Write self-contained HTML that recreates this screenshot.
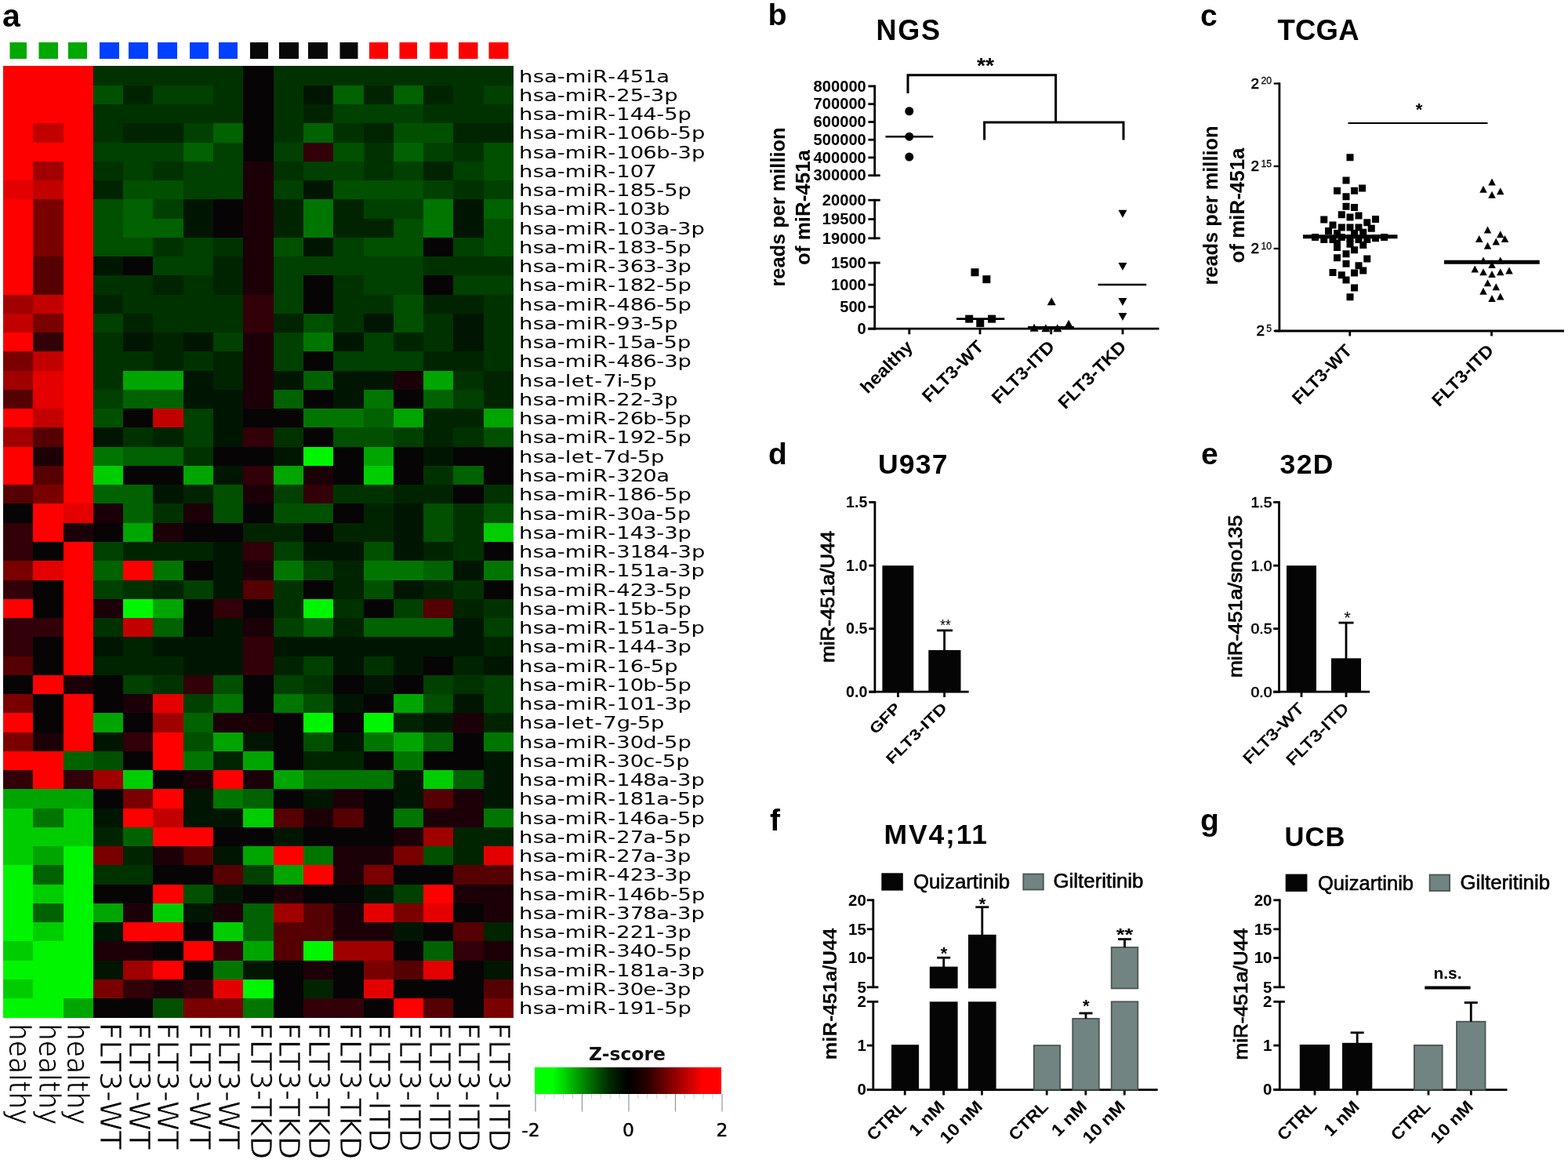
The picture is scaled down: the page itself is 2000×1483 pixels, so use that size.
<!DOCTYPE html>
<html lang="en"><head><meta charset="utf-8"><title>miR-451a figure</title>
<style>
html,body{margin:0;padding:0;background:#fff;}
body{width:2000px;height:1483px;overflow:hidden;font-family:"Liberation Sans",sans-serif;}
svg{display:block;}
</style></head><body>
<svg width="2000" height="1483" viewBox="0 0 2000 1483">
<rect width="2000" height="1483" fill="#fff"/>
<g shape-rendering="crispEdges">
<rect x="4" y="84" width="115" height="25" fill="#ff0000" />
<rect x="119" y="84" width="191" height="25" fill="#003200" />
<rect x="310" y="84" width="39" height="25" fill="#060405" />
<rect x="349" y="84" width="306" height="25" fill="#003200" />
<rect x="4" y="109" width="115" height="24" fill="#ff0000" />
<rect x="119" y="109" width="38" height="24" fill="#005000" />
<rect x="157" y="109" width="38" height="24" fill="#002400" />
<rect x="195" y="109" width="77" height="24" fill="#004000" />
<rect x="272" y="109" width="38" height="24" fill="#003200" />
<rect x="310" y="109" width="39" height="24" fill="#060405" />
<rect x="349" y="109" width="38" height="24" fill="#003200" />
<rect x="387" y="109" width="38" height="24" fill="#001602" />
<rect x="425" y="109" width="39" height="24" fill="#006200" />
<rect x="464" y="109" width="38" height="24" fill="#002400" />
<rect x="502" y="109" width="38" height="24" fill="#006200" />
<rect x="540" y="109" width="38" height="24" fill="#002400" />
<rect x="578" y="109" width="39" height="24" fill="#003200" />
<rect x="617" y="109" width="38" height="24" fill="#004000" />
<rect x="4" y="133" width="115" height="24" fill="#ff0000" />
<rect x="119" y="133" width="191" height="24" fill="#003200" />
<rect x="310" y="133" width="39" height="24" fill="#060405" />
<rect x="349" y="133" width="38" height="24" fill="#003200" />
<rect x="387" y="133" width="38" height="24" fill="#002400" />
<rect x="425" y="133" width="115" height="24" fill="#004000" />
<rect x="540" y="133" width="115" height="24" fill="#003200" />
<rect x="4" y="157" width="38" height="25" fill="#ff0000" />
<rect x="42" y="157" width="39" height="25" fill="#c30000" />
<rect x="81" y="157" width="38" height="25" fill="#ff0000" />
<rect x="119" y="157" width="38" height="25" fill="#003200" />
<rect x="157" y="157" width="77" height="25" fill="#002400" />
<rect x="234" y="157" width="38" height="25" fill="#004000" />
<rect x="272" y="157" width="38" height="25" fill="#006200" />
<rect x="310" y="157" width="39" height="25" fill="#060405" />
<rect x="349" y="157" width="38" height="25" fill="#003200" />
<rect x="387" y="157" width="38" height="25" fill="#006200" />
<rect x="425" y="157" width="39" height="25" fill="#003200" />
<rect x="464" y="157" width="38" height="25" fill="#002400" />
<rect x="502" y="157" width="76" height="25" fill="#005000" />
<rect x="578" y="157" width="77" height="25" fill="#002400" />
<rect x="4" y="182" width="115" height="24" fill="#ff0000" />
<rect x="119" y="182" width="115" height="24" fill="#004000" />
<rect x="234" y="182" width="38" height="24" fill="#006200" />
<rect x="272" y="182" width="38" height="24" fill="#004000" />
<rect x="310" y="182" width="39" height="24" fill="#060405" />
<rect x="349" y="182" width="38" height="24" fill="#004000" />
<rect x="387" y="182" width="38" height="24" fill="#320008" />
<rect x="425" y="182" width="39" height="24" fill="#005000" />
<rect x="464" y="182" width="38" height="24" fill="#003200" />
<rect x="502" y="182" width="38" height="24" fill="#006200" />
<rect x="540" y="182" width="38" height="24" fill="#004000" />
<rect x="578" y="182" width="39" height="24" fill="#003200" />
<rect x="617" y="182" width="38" height="24" fill="#005000" />
<rect x="4" y="206" width="38" height="24" fill="#ff0000" />
<rect x="42" y="206" width="39" height="24" fill="#a00000" />
<rect x="81" y="206" width="38" height="24" fill="#ff0000" />
<rect x="119" y="206" width="38" height="24" fill="#003200" />
<rect x="157" y="206" width="38" height="24" fill="#004000" />
<rect x="195" y="206" width="39" height="24" fill="#003200" />
<rect x="234" y="206" width="76" height="24" fill="#004000" />
<rect x="310" y="206" width="39" height="24" fill="#1c0008" />
<rect x="349" y="206" width="38" height="24" fill="#003200" />
<rect x="387" y="206" width="77" height="24" fill="#004000" />
<rect x="464" y="206" width="38" height="24" fill="#003200" />
<rect x="502" y="206" width="38" height="24" fill="#004000" />
<rect x="540" y="206" width="38" height="24" fill="#002400" />
<rect x="578" y="206" width="39" height="24" fill="#004000" />
<rect x="617" y="206" width="38" height="24" fill="#005000" />
<rect x="4" y="230" width="38" height="24" fill="#e40000" />
<rect x="42" y="230" width="39" height="24" fill="#c30000" />
<rect x="81" y="230" width="38" height="24" fill="#ff0000" />
<rect x="119" y="230" width="38" height="24" fill="#002400" />
<rect x="157" y="230" width="77" height="24" fill="#005000" />
<rect x="234" y="230" width="76" height="24" fill="#004000" />
<rect x="310" y="230" width="39" height="24" fill="#1c0008" />
<rect x="349" y="230" width="38" height="24" fill="#004000" />
<rect x="387" y="230" width="38" height="24" fill="#001602" />
<rect x="425" y="230" width="115" height="24" fill="#005000" />
<rect x="540" y="230" width="38" height="24" fill="#004000" />
<rect x="578" y="230" width="39" height="24" fill="#003200" />
<rect x="617" y="230" width="38" height="24" fill="#004000" />
<rect x="4" y="254" width="38" height="25" fill="#ff0000" />
<rect x="42" y="254" width="39" height="25" fill="#7a0000" />
<rect x="81" y="254" width="38" height="25" fill="#ff0000" />
<rect x="119" y="254" width="38" height="25" fill="#005000" />
<rect x="157" y="254" width="38" height="25" fill="#006200" />
<rect x="195" y="254" width="39" height="25" fill="#004000" />
<rect x="234" y="254" width="38" height="25" fill="#001602" />
<rect x="272" y="254" width="38" height="25" fill="#060405" />
<rect x="310" y="254" width="39" height="25" fill="#1c0008" />
<rect x="349" y="254" width="38" height="25" fill="#002400" />
<rect x="387" y="254" width="38" height="25" fill="#007600" />
<rect x="425" y="254" width="39" height="25" fill="#002400" />
<rect x="464" y="254" width="76" height="25" fill="#004000" />
<rect x="540" y="254" width="38" height="25" fill="#007600" />
<rect x="578" y="254" width="39" height="25" fill="#001602" />
<rect x="617" y="254" width="38" height="25" fill="#006200" />
<rect x="4" y="279" width="38" height="24" fill="#ff0000" />
<rect x="42" y="279" width="39" height="24" fill="#7a0000" />
<rect x="81" y="279" width="38" height="24" fill="#ff0000" />
<rect x="119" y="279" width="38" height="24" fill="#005000" />
<rect x="157" y="279" width="77" height="24" fill="#006200" />
<rect x="234" y="279" width="38" height="24" fill="#001602" />
<rect x="272" y="279" width="38" height="24" fill="#060405" />
<rect x="310" y="279" width="39" height="24" fill="#1c0008" />
<rect x="349" y="279" width="38" height="24" fill="#002400" />
<rect x="387" y="279" width="38" height="24" fill="#007600" />
<rect x="425" y="279" width="77" height="24" fill="#002400" />
<rect x="502" y="279" width="38" height="24" fill="#005000" />
<rect x="540" y="279" width="38" height="24" fill="#007600" />
<rect x="578" y="279" width="39" height="24" fill="#001602" />
<rect x="617" y="279" width="38" height="24" fill="#005000" />
<rect x="4" y="303" width="38" height="24" fill="#ff0000" />
<rect x="42" y="303" width="39" height="24" fill="#7a0000" />
<rect x="81" y="303" width="38" height="24" fill="#ff0000" />
<rect x="119" y="303" width="76" height="24" fill="#005000" />
<rect x="195" y="303" width="39" height="24" fill="#003200" />
<rect x="234" y="303" width="38" height="24" fill="#004000" />
<rect x="272" y="303" width="38" height="24" fill="#003200" />
<rect x="310" y="303" width="39" height="24" fill="#1c0008" />
<rect x="349" y="303" width="38" height="24" fill="#005000" />
<rect x="387" y="303" width="38" height="24" fill="#001602" />
<rect x="425" y="303" width="39" height="24" fill="#004000" />
<rect x="464" y="303" width="76" height="24" fill="#005000" />
<rect x="540" y="303" width="38" height="24" fill="#060405" />
<rect x="578" y="303" width="39" height="24" fill="#004000" />
<rect x="617" y="303" width="38" height="24" fill="#005000" />
<rect x="4" y="327" width="38" height="24" fill="#ff0000" />
<rect x="42" y="327" width="39" height="24" fill="#550002" />
<rect x="81" y="327" width="38" height="24" fill="#ff0000" />
<rect x="119" y="327" width="38" height="24" fill="#001602" />
<rect x="157" y="327" width="38" height="24" fill="#060405" />
<rect x="195" y="327" width="77" height="24" fill="#004000" />
<rect x="272" y="327" width="38" height="24" fill="#002400" />
<rect x="310" y="327" width="39" height="24" fill="#1c0008" />
<rect x="349" y="327" width="191" height="24" fill="#004000" />
<rect x="540" y="327" width="115" height="24" fill="#003200" />
<rect x="4" y="351" width="38" height="25" fill="#ff0000" />
<rect x="42" y="351" width="39" height="25" fill="#550002" />
<rect x="81" y="351" width="38" height="25" fill="#ff0000" />
<rect x="119" y="351" width="76" height="25" fill="#003200" />
<rect x="195" y="351" width="39" height="25" fill="#002400" />
<rect x="234" y="351" width="38" height="25" fill="#003200" />
<rect x="272" y="351" width="38" height="25" fill="#002400" />
<rect x="310" y="351" width="39" height="25" fill="#1c0008" />
<rect x="349" y="351" width="38" height="25" fill="#004000" />
<rect x="387" y="351" width="38" height="25" fill="#060405" />
<rect x="425" y="351" width="39" height="25" fill="#003200" />
<rect x="464" y="351" width="76" height="25" fill="#004000" />
<rect x="540" y="351" width="38" height="25" fill="#060405" />
<rect x="578" y="351" width="77" height="25" fill="#004000" />
<rect x="4" y="376" width="38" height="24" fill="#a00000" />
<rect x="42" y="376" width="39" height="24" fill="#c30000" />
<rect x="81" y="376" width="38" height="24" fill="#ff0000" />
<rect x="119" y="376" width="38" height="24" fill="#002400" />
<rect x="157" y="376" width="153" height="24" fill="#003200" />
<rect x="310" y="376" width="39" height="24" fill="#320008" />
<rect x="349" y="376" width="38" height="24" fill="#004000" />
<rect x="387" y="376" width="38" height="24" fill="#060405" />
<rect x="425" y="376" width="77" height="24" fill="#003200" />
<rect x="502" y="376" width="38" height="24" fill="#005000" />
<rect x="540" y="376" width="77" height="24" fill="#002400" />
<rect x="617" y="376" width="38" height="24" fill="#003200" />
<rect x="4" y="400" width="38" height="24" fill="#c30000" />
<rect x="42" y="400" width="39" height="24" fill="#7a0000" />
<rect x="81" y="400" width="38" height="24" fill="#ff0000" />
<rect x="119" y="400" width="38" height="24" fill="#004000" />
<rect x="157" y="400" width="38" height="24" fill="#002400" />
<rect x="195" y="400" width="115" height="24" fill="#003200" />
<rect x="310" y="400" width="39" height="24" fill="#320008" />
<rect x="349" y="400" width="38" height="24" fill="#002400" />
<rect x="387" y="400" width="38" height="24" fill="#005000" />
<rect x="425" y="400" width="39" height="24" fill="#003200" />
<rect x="464" y="400" width="38" height="24" fill="#001602" />
<rect x="502" y="400" width="38" height="24" fill="#005000" />
<rect x="540" y="400" width="38" height="24" fill="#003200" />
<rect x="578" y="400" width="39" height="24" fill="#001602" />
<rect x="617" y="400" width="38" height="24" fill="#003200" />
<rect x="4" y="424" width="38" height="24" fill="#ff0000" />
<rect x="42" y="424" width="39" height="24" fill="#320008" />
<rect x="81" y="424" width="38" height="24" fill="#ff0000" />
<rect x="119" y="424" width="38" height="24" fill="#003200" />
<rect x="157" y="424" width="38" height="24" fill="#001602" />
<rect x="195" y="424" width="39" height="24" fill="#002400" />
<rect x="234" y="424" width="38" height="24" fill="#001602" />
<rect x="272" y="424" width="38" height="24" fill="#004000" />
<rect x="310" y="424" width="39" height="24" fill="#1c0008" />
<rect x="349" y="424" width="38" height="24" fill="#004000" />
<rect x="387" y="424" width="38" height="24" fill="#007600" />
<rect x="425" y="424" width="39" height="24" fill="#001602" />
<rect x="464" y="424" width="38" height="24" fill="#004000" />
<rect x="502" y="424" width="38" height="24" fill="#002400" />
<rect x="540" y="424" width="38" height="24" fill="#003200" />
<rect x="578" y="424" width="39" height="24" fill="#001602" />
<rect x="617" y="424" width="38" height="24" fill="#003200" />
<rect x="4" y="448" width="38" height="25" fill="#7a0000" />
<rect x="42" y="448" width="39" height="25" fill="#c30000" />
<rect x="81" y="448" width="38" height="25" fill="#ff0000" />
<rect x="119" y="448" width="76" height="25" fill="#003200" />
<rect x="195" y="448" width="39" height="25" fill="#002400" />
<rect x="234" y="448" width="38" height="25" fill="#003200" />
<rect x="272" y="448" width="38" height="25" fill="#002400" />
<rect x="310" y="448" width="39" height="25" fill="#1c0008" />
<rect x="349" y="448" width="38" height="25" fill="#004000" />
<rect x="387" y="448" width="38" height="25" fill="#060405" />
<rect x="425" y="448" width="115" height="25" fill="#004000" />
<rect x="540" y="448" width="77" height="25" fill="#002400" />
<rect x="617" y="448" width="38" height="25" fill="#003200" />
<rect x="4" y="473" width="38" height="24" fill="#a00000" />
<rect x="42" y="473" width="39" height="24" fill="#e40000" />
<rect x="81" y="473" width="38" height="24" fill="#ff0000" />
<rect x="119" y="473" width="38" height="24" fill="#003200" />
<rect x="157" y="473" width="77" height="24" fill="#00a500" />
<rect x="234" y="473" width="38" height="24" fill="#001602" />
<rect x="272" y="473" width="38" height="24" fill="#002400" />
<rect x="310" y="473" width="39" height="24" fill="#1c0008" />
<rect x="349" y="473" width="38" height="24" fill="#001602" />
<rect x="387" y="473" width="38" height="24" fill="#006200" />
<rect x="425" y="473" width="77" height="24" fill="#001602" />
<rect x="502" y="473" width="38" height="24" fill="#1c0008" />
<rect x="540" y="473" width="38" height="24" fill="#00a500" />
<rect x="578" y="473" width="39" height="24" fill="#003200" />
<rect x="617" y="473" width="38" height="24" fill="#002400" />
<rect x="4" y="497" width="38" height="24" fill="#550002" />
<rect x="42" y="497" width="39" height="24" fill="#e40000" />
<rect x="81" y="497" width="38" height="24" fill="#ff0000" />
<rect x="119" y="497" width="38" height="24" fill="#004000" />
<rect x="157" y="497" width="77" height="24" fill="#006200" />
<rect x="234" y="497" width="76" height="24" fill="#001602" />
<rect x="310" y="497" width="39" height="24" fill="#1c0008" />
<rect x="349" y="497" width="38" height="24" fill="#006200" />
<rect x="387" y="497" width="38" height="24" fill="#060405" />
<rect x="425" y="497" width="39" height="24" fill="#001602" />
<rect x="464" y="497" width="38" height="24" fill="#007600" />
<rect x="502" y="497" width="38" height="24" fill="#060405" />
<rect x="540" y="497" width="38" height="24" fill="#006200" />
<rect x="578" y="497" width="39" height="24" fill="#004000" />
<rect x="617" y="497" width="38" height="24" fill="#002400" />
<rect x="4" y="521" width="38" height="24" fill="#ff0000" />
<rect x="42" y="521" width="39" height="24" fill="#c30000" />
<rect x="81" y="521" width="38" height="24" fill="#ff0000" />
<rect x="119" y="521" width="38" height="24" fill="#005000" />
<rect x="157" y="521" width="38" height="24" fill="#060405" />
<rect x="195" y="521" width="39" height="24" fill="#c30000" />
<rect x="234" y="521" width="38" height="24" fill="#004000" />
<rect x="272" y="521" width="38" height="24" fill="#001602" />
<rect x="310" y="521" width="77" height="24" fill="#060405" />
<rect x="387" y="521" width="77" height="24" fill="#007600" />
<rect x="464" y="521" width="38" height="24" fill="#006200" />
<rect x="502" y="521" width="38" height="24" fill="#00a500" />
<rect x="540" y="521" width="77" height="24" fill="#002400" />
<rect x="617" y="521" width="38" height="24" fill="#00a500" />
<rect x="4" y="545" width="38" height="25" fill="#a00000" />
<rect x="42" y="545" width="39" height="25" fill="#550002" />
<rect x="81" y="545" width="38" height="25" fill="#ff0000" />
<rect x="119" y="545" width="38" height="25" fill="#001602" />
<rect x="157" y="545" width="38" height="25" fill="#003200" />
<rect x="195" y="545" width="39" height="25" fill="#002400" />
<rect x="234" y="545" width="38" height="25" fill="#004000" />
<rect x="272" y="545" width="38" height="25" fill="#001602" />
<rect x="310" y="545" width="39" height="25" fill="#320008" />
<rect x="349" y="545" width="38" height="25" fill="#003200" />
<rect x="387" y="545" width="38" height="25" fill="#060405" />
<rect x="425" y="545" width="77" height="25" fill="#005000" />
<rect x="502" y="545" width="38" height="25" fill="#004000" />
<rect x="540" y="545" width="38" height="25" fill="#002400" />
<rect x="578" y="545" width="39" height="25" fill="#003200" />
<rect x="617" y="545" width="38" height="25" fill="#005000" />
<rect x="4" y="570" width="38" height="24" fill="#ff0000" />
<rect x="42" y="570" width="39" height="24" fill="#1c0008" />
<rect x="81" y="570" width="38" height="24" fill="#ff0000" />
<rect x="119" y="570" width="38" height="24" fill="#007600" />
<rect x="157" y="570" width="77" height="24" fill="#006200" />
<rect x="234" y="570" width="38" height="24" fill="#003200" />
<rect x="272" y="570" width="77" height="24" fill="#060405" />
<rect x="349" y="570" width="38" height="24" fill="#001602" />
<rect x="387" y="570" width="38" height="24" fill="#00f600" />
<rect x="425" y="570" width="39" height="24" fill="#060405" />
<rect x="464" y="570" width="38" height="24" fill="#00a500" />
<rect x="502" y="570" width="38" height="24" fill="#060405" />
<rect x="540" y="570" width="38" height="24" fill="#001602" />
<rect x="578" y="570" width="77" height="24" fill="#060405" />
<rect x="4" y="594" width="38" height="24" fill="#ff0000" />
<rect x="42" y="594" width="39" height="24" fill="#550002" />
<rect x="81" y="594" width="38" height="24" fill="#ff0000" />
<rect x="119" y="594" width="38" height="24" fill="#00cd00" />
<rect x="157" y="594" width="77" height="24" fill="#060405" />
<rect x="234" y="594" width="38" height="24" fill="#00a500" />
<rect x="272" y="594" width="38" height="24" fill="#001602" />
<rect x="310" y="594" width="39" height="24" fill="#320008" />
<rect x="349" y="594" width="38" height="24" fill="#00a500" />
<rect x="387" y="594" width="38" height="24" fill="#1c0008" />
<rect x="425" y="594" width="39" height="24" fill="#060405" />
<rect x="464" y="594" width="38" height="24" fill="#00cd00" />
<rect x="502" y="594" width="38" height="24" fill="#060405" />
<rect x="540" y="594" width="38" height="24" fill="#003200" />
<rect x="578" y="594" width="39" height="24" fill="#006200" />
<rect x="617" y="594" width="38" height="24" fill="#060405" />
<rect x="4" y="618" width="38" height="24" fill="#550002" />
<rect x="42" y="618" width="39" height="24" fill="#7a0000" />
<rect x="81" y="618" width="38" height="24" fill="#ff0000" />
<rect x="119" y="618" width="76" height="24" fill="#006200" />
<rect x="195" y="618" width="39" height="24" fill="#001602" />
<rect x="234" y="618" width="38" height="24" fill="#002400" />
<rect x="272" y="618" width="38" height="24" fill="#005000" />
<rect x="310" y="618" width="39" height="24" fill="#1c0008" />
<rect x="349" y="618" width="38" height="24" fill="#004000" />
<rect x="387" y="618" width="38" height="24" fill="#320008" />
<rect x="425" y="618" width="77" height="24" fill="#003200" />
<rect x="502" y="618" width="76" height="24" fill="#002400" />
<rect x="578" y="618" width="39" height="24" fill="#060405" />
<rect x="617" y="618" width="38" height="24" fill="#003200" />
<rect x="4" y="642" width="38" height="25" fill="#060405" />
<rect x="42" y="642" width="39" height="25" fill="#ff0000" />
<rect x="81" y="642" width="38" height="25" fill="#e40000" />
<rect x="119" y="642" width="38" height="25" fill="#1c0008" />
<rect x="157" y="642" width="38" height="25" fill="#006200" />
<rect x="195" y="642" width="39" height="25" fill="#003200" />
<rect x="234" y="642" width="38" height="25" fill="#1c0008" />
<rect x="272" y="642" width="38" height="25" fill="#005000" />
<rect x="310" y="642" width="39" height="25" fill="#060405" />
<rect x="349" y="642" width="76" height="25" fill="#005000" />
<rect x="425" y="642" width="39" height="25" fill="#060405" />
<rect x="464" y="642" width="38" height="25" fill="#002400" />
<rect x="502" y="642" width="38" height="25" fill="#001602" />
<rect x="540" y="642" width="38" height="25" fill="#005000" />
<rect x="578" y="642" width="39" height="25" fill="#003200" />
<rect x="617" y="642" width="38" height="25" fill="#005000" />
<rect x="4" y="667" width="38" height="24" fill="#320008" />
<rect x="42" y="667" width="39" height="24" fill="#ff0000" />
<rect x="81" y="667" width="38" height="24" fill="#1c0008" />
<rect x="119" y="667" width="38" height="24" fill="#060405" />
<rect x="157" y="667" width="38" height="24" fill="#00a500" />
<rect x="195" y="667" width="39" height="24" fill="#1c0008" />
<rect x="234" y="667" width="76" height="24" fill="#060405" />
<rect x="310" y="667" width="77" height="24" fill="#002400" />
<rect x="387" y="667" width="38" height="24" fill="#060405" />
<rect x="425" y="667" width="77" height="24" fill="#002400" />
<rect x="502" y="667" width="38" height="24" fill="#001602" />
<rect x="540" y="667" width="38" height="24" fill="#005000" />
<rect x="578" y="667" width="39" height="24" fill="#003200" />
<rect x="617" y="667" width="38" height="24" fill="#00cd00" />
<rect x="4" y="691" width="38" height="24" fill="#320008" />
<rect x="42" y="691" width="39" height="24" fill="#060405" />
<rect x="81" y="691" width="38" height="24" fill="#ff0000" />
<rect x="119" y="691" width="38" height="24" fill="#004000" />
<rect x="157" y="691" width="115" height="24" fill="#002400" />
<rect x="272" y="691" width="38" height="24" fill="#001602" />
<rect x="310" y="691" width="39" height="24" fill="#320008" />
<rect x="349" y="691" width="38" height="24" fill="#004000" />
<rect x="387" y="691" width="77" height="24" fill="#001602" />
<rect x="464" y="691" width="38" height="24" fill="#005000" />
<rect x="502" y="691" width="38" height="24" fill="#001602" />
<rect x="540" y="691" width="38" height="24" fill="#002400" />
<rect x="578" y="691" width="39" height="24" fill="#003200" />
<rect x="617" y="691" width="38" height="24" fill="#060405" />
<rect x="4" y="715" width="38" height="25" fill="#7a0000" />
<rect x="42" y="715" width="39" height="25" fill="#e40000" />
<rect x="81" y="715" width="38" height="25" fill="#ff0000" />
<rect x="119" y="715" width="38" height="25" fill="#006200" />
<rect x="157" y="715" width="38" height="25" fill="#ff0000" />
<rect x="195" y="715" width="39" height="25" fill="#007600" />
<rect x="234" y="715" width="38" height="25" fill="#060405" />
<rect x="272" y="715" width="38" height="25" fill="#001602" />
<rect x="310" y="715" width="39" height="25" fill="#1c0008" />
<rect x="349" y="715" width="38" height="25" fill="#007600" />
<rect x="387" y="715" width="38" height="25" fill="#004000" />
<rect x="425" y="715" width="39" height="25" fill="#002400" />
<rect x="464" y="715" width="76" height="25" fill="#007600" />
<rect x="540" y="715" width="38" height="25" fill="#006200" />
<rect x="578" y="715" width="39" height="25" fill="#001602" />
<rect x="617" y="715" width="38" height="25" fill="#007600" />
<rect x="4" y="740" width="38" height="24" fill="#320008" />
<rect x="42" y="740" width="39" height="24" fill="#060405" />
<rect x="81" y="740" width="38" height="24" fill="#ff0000" />
<rect x="119" y="740" width="38" height="24" fill="#004000" />
<rect x="157" y="740" width="38" height="24" fill="#003200" />
<rect x="195" y="740" width="39" height="24" fill="#002400" />
<rect x="234" y="740" width="38" height="24" fill="#004000" />
<rect x="272" y="740" width="38" height="24" fill="#001602" />
<rect x="310" y="740" width="39" height="24" fill="#550002" />
<rect x="349" y="740" width="38" height="24" fill="#003200" />
<rect x="387" y="740" width="38" height="24" fill="#060405" />
<rect x="425" y="740" width="39" height="24" fill="#002400" />
<rect x="464" y="740" width="38" height="24" fill="#005000" />
<rect x="502" y="740" width="38" height="24" fill="#001602" />
<rect x="540" y="740" width="38" height="24" fill="#002400" />
<rect x="578" y="740" width="39" height="24" fill="#003200" />
<rect x="617" y="740" width="38" height="24" fill="#060405" />
<rect x="4" y="764" width="38" height="24" fill="#ff0000" />
<rect x="42" y="764" width="39" height="24" fill="#060405" />
<rect x="81" y="764" width="38" height="24" fill="#ff0000" />
<rect x="119" y="764" width="38" height="24" fill="#1c0008" />
<rect x="157" y="764" width="38" height="24" fill="#00f600" />
<rect x="195" y="764" width="39" height="24" fill="#00a500" />
<rect x="234" y="764" width="38" height="24" fill="#060405" />
<rect x="272" y="764" width="38" height="24" fill="#320008" />
<rect x="310" y="764" width="39" height="24" fill="#060405" />
<rect x="349" y="764" width="38" height="24" fill="#003200" />
<rect x="387" y="764" width="38" height="24" fill="#00f600" />
<rect x="425" y="764" width="39" height="24" fill="#003200" />
<rect x="464" y="764" width="38" height="24" fill="#060405" />
<rect x="502" y="764" width="38" height="24" fill="#004000" />
<rect x="540" y="764" width="38" height="24" fill="#550002" />
<rect x="578" y="764" width="39" height="24" fill="#002400" />
<rect x="617" y="764" width="38" height="24" fill="#003200" />
<rect x="4" y="788" width="77" height="24" fill="#320008" />
<rect x="81" y="788" width="38" height="24" fill="#ff0000" />
<rect x="119" y="788" width="38" height="24" fill="#003200" />
<rect x="157" y="788" width="38" height="24" fill="#c30000" />
<rect x="195" y="788" width="39" height="24" fill="#006200" />
<rect x="234" y="788" width="38" height="24" fill="#060405" />
<rect x="272" y="788" width="38" height="24" fill="#001602" />
<rect x="310" y="788" width="39" height="24" fill="#1c0008" />
<rect x="349" y="788" width="38" height="24" fill="#004000" />
<rect x="387" y="788" width="38" height="24" fill="#006200" />
<rect x="425" y="788" width="39" height="24" fill="#002400" />
<rect x="464" y="788" width="114" height="24" fill="#006200" />
<rect x="578" y="788" width="39" height="24" fill="#001602" />
<rect x="617" y="788" width="38" height="24" fill="#004000" />
<rect x="4" y="812" width="38" height="25" fill="#320008" />
<rect x="42" y="812" width="39" height="25" fill="#060405" />
<rect x="81" y="812" width="38" height="25" fill="#ff0000" />
<rect x="119" y="812" width="38" height="25" fill="#001602" />
<rect x="157" y="812" width="38" height="25" fill="#002400" />
<rect x="195" y="812" width="115" height="25" fill="#001602" />
<rect x="310" y="812" width="39" height="25" fill="#320008" />
<rect x="349" y="812" width="268" height="25" fill="#001602" />
<rect x="617" y="812" width="38" height="25" fill="#002400" />
<rect x="4" y="837" width="38" height="24" fill="#550002" />
<rect x="42" y="837" width="39" height="24" fill="#060405" />
<rect x="81" y="837" width="38" height="24" fill="#ff0000" />
<rect x="119" y="837" width="115" height="24" fill="#002400" />
<rect x="234" y="837" width="76" height="24" fill="#001602" />
<rect x="310" y="837" width="39" height="24" fill="#320008" />
<rect x="349" y="837" width="38" height="24" fill="#002400" />
<rect x="387" y="837" width="38" height="24" fill="#004000" />
<rect x="425" y="837" width="39" height="24" fill="#001602" />
<rect x="464" y="837" width="38" height="24" fill="#003200" />
<rect x="502" y="837" width="38" height="24" fill="#001602" />
<rect x="540" y="837" width="38" height="24" fill="#060405" />
<rect x="578" y="837" width="39" height="24" fill="#002400" />
<rect x="617" y="837" width="38" height="24" fill="#001602" />
<rect x="4" y="861" width="38" height="24" fill="#060405" />
<rect x="42" y="861" width="39" height="24" fill="#ff0000" />
<rect x="81" y="861" width="38" height="24" fill="#1c0008" />
<rect x="119" y="861" width="38" height="24" fill="#060405" />
<rect x="157" y="861" width="38" height="24" fill="#004000" />
<rect x="195" y="861" width="39" height="24" fill="#003200" />
<rect x="234" y="861" width="38" height="24" fill="#320008" />
<rect x="272" y="861" width="38" height="24" fill="#005000" />
<rect x="310" y="861" width="39" height="24" fill="#060405" />
<rect x="349" y="861" width="38" height="24" fill="#004000" />
<rect x="387" y="861" width="38" height="24" fill="#003200" />
<rect x="425" y="861" width="39" height="24" fill="#060405" />
<rect x="464" y="861" width="38" height="24" fill="#001602" />
<rect x="502" y="861" width="38" height="24" fill="#060405" />
<rect x="540" y="861" width="38" height="24" fill="#004000" />
<rect x="578" y="861" width="39" height="24" fill="#003200" />
<rect x="617" y="861" width="38" height="24" fill="#004000" />
<rect x="4" y="885" width="38" height="24" fill="#7a0000" />
<rect x="42" y="885" width="39" height="24" fill="#060405" />
<rect x="81" y="885" width="38" height="24" fill="#ff0000" />
<rect x="119" y="885" width="38" height="24" fill="#060405" />
<rect x="157" y="885" width="38" height="24" fill="#1c0008" />
<rect x="195" y="885" width="39" height="24" fill="#e40000" />
<rect x="234" y="885" width="38" height="24" fill="#004000" />
<rect x="272" y="885" width="38" height="24" fill="#007600" />
<rect x="310" y="885" width="39" height="24" fill="#060405" />
<rect x="349" y="885" width="38" height="24" fill="#007600" />
<rect x="387" y="885" width="38" height="24" fill="#005000" />
<rect x="425" y="885" width="39" height="24" fill="#001602" />
<rect x="464" y="885" width="38" height="24" fill="#060405" />
<rect x="502" y="885" width="38" height="24" fill="#00a500" />
<rect x="540" y="885" width="38" height="24" fill="#005000" />
<rect x="578" y="885" width="39" height="24" fill="#001602" />
<rect x="617" y="885" width="38" height="24" fill="#004000" />
<rect x="4" y="909" width="38" height="25" fill="#ff0000" />
<rect x="42" y="909" width="39" height="25" fill="#060405" />
<rect x="81" y="909" width="38" height="25" fill="#ff0000" />
<rect x="119" y="909" width="38" height="25" fill="#00a500" />
<rect x="157" y="909" width="38" height="25" fill="#060405" />
<rect x="195" y="909" width="39" height="25" fill="#a00000" />
<rect x="234" y="909" width="38" height="25" fill="#006200" />
<rect x="272" y="909" width="77" height="25" fill="#1c0008" />
<rect x="349" y="909" width="38" height="25" fill="#060405" />
<rect x="387" y="909" width="38" height="25" fill="#00f600" />
<rect x="425" y="909" width="39" height="25" fill="#060405" />
<rect x="464" y="909" width="38" height="25" fill="#00f600" />
<rect x="502" y="909" width="38" height="25" fill="#002400" />
<rect x="540" y="909" width="38" height="25" fill="#001602" />
<rect x="578" y="909" width="39" height="25" fill="#1c0008" />
<rect x="617" y="909" width="38" height="25" fill="#002400" />
<rect x="4" y="934" width="38" height="24" fill="#7a0000" />
<rect x="42" y="934" width="39" height="24" fill="#1c0008" />
<rect x="81" y="934" width="38" height="24" fill="#ff0000" />
<rect x="119" y="934" width="38" height="24" fill="#001602" />
<rect x="157" y="934" width="38" height="24" fill="#320008" />
<rect x="195" y="934" width="39" height="24" fill="#ff0000" />
<rect x="234" y="934" width="38" height="24" fill="#005000" />
<rect x="272" y="934" width="38" height="24" fill="#00a500" />
<rect x="310" y="934" width="39" height="24" fill="#001602" />
<rect x="349" y="934" width="38" height="24" fill="#060405" />
<rect x="387" y="934" width="38" height="24" fill="#005000" />
<rect x="425" y="934" width="39" height="24" fill="#001602" />
<rect x="464" y="934" width="38" height="24" fill="#007600" />
<rect x="502" y="934" width="38" height="24" fill="#00a500" />
<rect x="540" y="934" width="38" height="24" fill="#006200" />
<rect x="578" y="934" width="39" height="24" fill="#060405" />
<rect x="617" y="934" width="38" height="24" fill="#007600" />
<rect x="4" y="958" width="77" height="24" fill="#ff0000" />
<rect x="81" y="958" width="38" height="24" fill="#006200" />
<rect x="119" y="958" width="38" height="24" fill="#005000" />
<rect x="157" y="958" width="38" height="24" fill="#060405" />
<rect x="195" y="958" width="39" height="24" fill="#ff0000" />
<rect x="234" y="958" width="38" height="24" fill="#007600" />
<rect x="272" y="958" width="38" height="24" fill="#002400" />
<rect x="310" y="958" width="39" height="24" fill="#00a500" />
<rect x="349" y="958" width="38" height="24" fill="#060405" />
<rect x="387" y="958" width="77" height="24" fill="#002400" />
<rect x="464" y="958" width="38" height="24" fill="#060405" />
<rect x="502" y="958" width="38" height="24" fill="#007600" />
<rect x="540" y="958" width="77" height="24" fill="#060405" />
<rect x="617" y="958" width="38" height="24" fill="#001602" />
<rect x="4" y="982" width="38" height="24" fill="#320008" />
<rect x="42" y="982" width="39" height="24" fill="#ff0000" />
<rect x="81" y="982" width="38" height="24" fill="#320008" />
<rect x="119" y="982" width="38" height="24" fill="#a00000" />
<rect x="157" y="982" width="38" height="24" fill="#00cd00" />
<rect x="195" y="982" width="39" height="24" fill="#060405" />
<rect x="234" y="982" width="38" height="24" fill="#1c0008" />
<rect x="272" y="982" width="38" height="24" fill="#ff0000" />
<rect x="310" y="982" width="39" height="24" fill="#1c0008" />
<rect x="349" y="982" width="38" height="24" fill="#00a500" />
<rect x="387" y="982" width="115" height="24" fill="#007600" />
<rect x="502" y="982" width="38" height="24" fill="#001602" />
<rect x="540" y="982" width="38" height="24" fill="#00cd00" />
<rect x="578" y="982" width="39" height="24" fill="#006200" />
<rect x="617" y="982" width="38" height="24" fill="#001602" />
<rect x="4" y="1006" width="115" height="25" fill="#00a500" />
<rect x="119" y="1006" width="38" height="25" fill="#060405" />
<rect x="157" y="1006" width="38" height="25" fill="#7a0000" />
<rect x="195" y="1006" width="39" height="25" fill="#ff0000" />
<rect x="234" y="1006" width="38" height="25" fill="#001602" />
<rect x="272" y="1006" width="38" height="25" fill="#007600" />
<rect x="310" y="1006" width="39" height="25" fill="#006200" />
<rect x="349" y="1006" width="38" height="25" fill="#060405" />
<rect x="387" y="1006" width="38" height="25" fill="#001602" />
<rect x="425" y="1006" width="39" height="25" fill="#1c0008" />
<rect x="464" y="1006" width="38" height="25" fill="#060405" />
<rect x="502" y="1006" width="38" height="25" fill="#001602" />
<rect x="540" y="1006" width="38" height="25" fill="#550002" />
<rect x="578" y="1006" width="39" height="25" fill="#1c0008" />
<rect x="617" y="1006" width="38" height="25" fill="#001602" />
<rect x="4" y="1031" width="38" height="24" fill="#00cd00" />
<rect x="42" y="1031" width="39" height="24" fill="#007600" />
<rect x="81" y="1031" width="38" height="24" fill="#00cd00" />
<rect x="119" y="1031" width="38" height="24" fill="#001602" />
<rect x="157" y="1031" width="38" height="24" fill="#ff0000" />
<rect x="195" y="1031" width="39" height="24" fill="#c30000" />
<rect x="234" y="1031" width="76" height="24" fill="#001602" />
<rect x="310" y="1031" width="39" height="24" fill="#00cd00" />
<rect x="349" y="1031" width="38" height="24" fill="#550002" />
<rect x="387" y="1031" width="38" height="24" fill="#1c0008" />
<rect x="425" y="1031" width="39" height="24" fill="#550002" />
<rect x="464" y="1031" width="38" height="24" fill="#060405" />
<rect x="502" y="1031" width="38" height="24" fill="#007600" />
<rect x="540" y="1031" width="77" height="24" fill="#1c0008" />
<rect x="617" y="1031" width="38" height="24" fill="#007600" />
<rect x="4" y="1055" width="115" height="24" fill="#00cd00" />
<rect x="119" y="1055" width="38" height="24" fill="#002400" />
<rect x="157" y="1055" width="38" height="24" fill="#006200" />
<rect x="195" y="1055" width="77" height="24" fill="#ff0000" />
<rect x="272" y="1055" width="77" height="24" fill="#060405" />
<rect x="349" y="1055" width="38" height="24" fill="#001602" />
<rect x="387" y="1055" width="115" height="24" fill="#060405" />
<rect x="502" y="1055" width="38" height="24" fill="#1c0008" />
<rect x="540" y="1055" width="38" height="24" fill="#a00000" />
<rect x="578" y="1055" width="77" height="24" fill="#002400" />
<rect x="4" y="1079" width="38" height="24" fill="#00cd00" />
<rect x="42" y="1079" width="39" height="24" fill="#00a500" />
<rect x="81" y="1079" width="38" height="24" fill="#00f600" />
<rect x="119" y="1079" width="38" height="24" fill="#7a0000" />
<rect x="157" y="1079" width="38" height="24" fill="#002400" />
<rect x="195" y="1079" width="39" height="24" fill="#1c0008" />
<rect x="234" y="1079" width="38" height="24" fill="#550002" />
<rect x="272" y="1079" width="38" height="24" fill="#001602" />
<rect x="310" y="1079" width="39" height="24" fill="#00a500" />
<rect x="349" y="1079" width="38" height="24" fill="#ff0000" />
<rect x="387" y="1079" width="38" height="24" fill="#007600" />
<rect x="425" y="1079" width="77" height="24" fill="#1c0008" />
<rect x="502" y="1079" width="38" height="24" fill="#7a0000" />
<rect x="540" y="1079" width="38" height="24" fill="#005000" />
<rect x="578" y="1079" width="39" height="24" fill="#002400" />
<rect x="617" y="1079" width="38" height="24" fill="#e40000" />
<rect x="4" y="1103" width="38" height="25" fill="#00f600" />
<rect x="42" y="1103" width="39" height="25" fill="#006200" />
<rect x="81" y="1103" width="38" height="25" fill="#00f600" />
<rect x="119" y="1103" width="76" height="25" fill="#003200" />
<rect x="195" y="1103" width="77" height="25" fill="#060405" />
<rect x="272" y="1103" width="38" height="25" fill="#550002" />
<rect x="310" y="1103" width="39" height="25" fill="#004000" />
<rect x="349" y="1103" width="38" height="25" fill="#00a500" />
<rect x="387" y="1103" width="38" height="25" fill="#ff0000" />
<rect x="425" y="1103" width="39" height="25" fill="#1c0008" />
<rect x="464" y="1103" width="38" height="25" fill="#7a0000" />
<rect x="502" y="1103" width="76" height="25" fill="#060405" />
<rect x="578" y="1103" width="77" height="25" fill="#550002" />
<rect x="4" y="1128" width="38" height="24" fill="#00f600" />
<rect x="42" y="1128" width="39" height="24" fill="#00cd00" />
<rect x="81" y="1128" width="38" height="24" fill="#00f600" />
<rect x="119" y="1128" width="76" height="24" fill="#060405" />
<rect x="195" y="1128" width="39" height="24" fill="#ff0000" />
<rect x="234" y="1128" width="38" height="24" fill="#005000" />
<rect x="272" y="1128" width="38" height="24" fill="#001602" />
<rect x="310" y="1128" width="39" height="24" fill="#060405" />
<rect x="349" y="1128" width="38" height="24" fill="#1c0008" />
<rect x="387" y="1128" width="77" height="24" fill="#060405" />
<rect x="464" y="1128" width="38" height="24" fill="#001602" />
<rect x="502" y="1128" width="38" height="24" fill="#004000" />
<rect x="540" y="1128" width="38" height="24" fill="#ff0000" />
<rect x="578" y="1128" width="77" height="24" fill="#1c0008" />
<rect x="4" y="1152" width="38" height="24" fill="#00f600" />
<rect x="42" y="1152" width="39" height="24" fill="#006200" />
<rect x="81" y="1152" width="38" height="24" fill="#00f600" />
<rect x="119" y="1152" width="38" height="24" fill="#00a500" />
<rect x="157" y="1152" width="38" height="24" fill="#1c0008" />
<rect x="195" y="1152" width="39" height="24" fill="#00cd00" />
<rect x="234" y="1152" width="38" height="24" fill="#001602" />
<rect x="272" y="1152" width="38" height="24" fill="#1c0008" />
<rect x="310" y="1152" width="39" height="24" fill="#006200" />
<rect x="349" y="1152" width="38" height="24" fill="#a00000" />
<rect x="387" y="1152" width="38" height="24" fill="#550002" />
<rect x="425" y="1152" width="39" height="24" fill="#1c0008" />
<rect x="464" y="1152" width="38" height="24" fill="#e40000" />
<rect x="502" y="1152" width="38" height="24" fill="#7a0000" />
<rect x="540" y="1152" width="38" height="24" fill="#e40000" />
<rect x="578" y="1152" width="39" height="24" fill="#060405" />
<rect x="617" y="1152" width="38" height="24" fill="#1c0008" />
<rect x="4" y="1176" width="38" height="24" fill="#00f600" />
<rect x="42" y="1176" width="39" height="24" fill="#00cd00" />
<rect x="81" y="1176" width="38" height="24" fill="#00f600" />
<rect x="119" y="1176" width="38" height="24" fill="#001602" />
<rect x="157" y="1176" width="77" height="24" fill="#ff0000" />
<rect x="234" y="1176" width="38" height="24" fill="#060405" />
<rect x="272" y="1176" width="38" height="24" fill="#00cd00" />
<rect x="310" y="1176" width="39" height="24" fill="#006200" />
<rect x="349" y="1176" width="76" height="24" fill="#550002" />
<rect x="425" y="1176" width="77" height="24" fill="#1c0008" />
<rect x="502" y="1176" width="38" height="24" fill="#001602" />
<rect x="540" y="1176" width="38" height="24" fill="#060405" />
<rect x="578" y="1176" width="39" height="24" fill="#550002" />
<rect x="617" y="1176" width="38" height="24" fill="#002400" />
<rect x="4" y="1200" width="38" height="25" fill="#00cd00" />
<rect x="42" y="1200" width="77" height="25" fill="#00f600" />
<rect x="119" y="1200" width="76" height="25" fill="#1c0008" />
<rect x="195" y="1200" width="39" height="25" fill="#060405" />
<rect x="234" y="1200" width="38" height="25" fill="#ff0000" />
<rect x="272" y="1200" width="38" height="25" fill="#320008" />
<rect x="310" y="1200" width="39" height="25" fill="#00a500" />
<rect x="349" y="1200" width="38" height="25" fill="#550002" />
<rect x="387" y="1200" width="38" height="25" fill="#00f600" />
<rect x="425" y="1200" width="77" height="25" fill="#a00000" />
<rect x="502" y="1200" width="38" height="25" fill="#060405" />
<rect x="540" y="1200" width="38" height="25" fill="#006200" />
<rect x="578" y="1200" width="39" height="25" fill="#320008" />
<rect x="617" y="1200" width="38" height="25" fill="#1c0008" />
<rect x="4" y="1225" width="115" height="24" fill="#00f600" />
<rect x="119" y="1225" width="38" height="24" fill="#001602" />
<rect x="157" y="1225" width="38" height="24" fill="#a00000" />
<rect x="195" y="1225" width="39" height="24" fill="#ff0000" />
<rect x="234" y="1225" width="38" height="24" fill="#060405" />
<rect x="272" y="1225" width="38" height="24" fill="#007600" />
<rect x="310" y="1225" width="39" height="24" fill="#001602" />
<rect x="349" y="1225" width="38" height="24" fill="#060405" />
<rect x="387" y="1225" width="38" height="24" fill="#1c0008" />
<rect x="425" y="1225" width="39" height="24" fill="#060405" />
<rect x="464" y="1225" width="38" height="24" fill="#7a0000" />
<rect x="502" y="1225" width="38" height="24" fill="#550002" />
<rect x="540" y="1225" width="38" height="24" fill="#e40000" />
<rect x="578" y="1225" width="39" height="24" fill="#060405" />
<rect x="617" y="1225" width="38" height="24" fill="#001602" />
<rect x="4" y="1249" width="38" height="24" fill="#00cd00" />
<rect x="42" y="1249" width="77" height="24" fill="#00f600" />
<rect x="119" y="1249" width="38" height="24" fill="#7a0000" />
<rect x="157" y="1249" width="38" height="24" fill="#320008" />
<rect x="195" y="1249" width="39" height="24" fill="#1c0008" />
<rect x="234" y="1249" width="38" height="24" fill="#320008" />
<rect x="272" y="1249" width="38" height="24" fill="#e40000" />
<rect x="310" y="1249" width="39" height="24" fill="#00f600" />
<rect x="349" y="1249" width="38" height="24" fill="#060405" />
<rect x="387" y="1249" width="38" height="24" fill="#002400" />
<rect x="425" y="1249" width="39" height="24" fill="#060405" />
<rect x="464" y="1249" width="38" height="24" fill="#e40000" />
<rect x="502" y="1249" width="115" height="24" fill="#060405" />
<rect x="617" y="1249" width="38" height="24" fill="#550002" />
<rect x="4" y="1273" width="77" height="25" fill="#00f600" />
<rect x="81" y="1273" width="38" height="25" fill="#00a500" />
<rect x="119" y="1273" width="76" height="25" fill="#060405" />
<rect x="195" y="1273" width="39" height="25" fill="#005000" />
<rect x="234" y="1273" width="76" height="25" fill="#7a0000" />
<rect x="310" y="1273" width="39" height="25" fill="#007600" />
<rect x="349" y="1273" width="38" height="25" fill="#060405" />
<rect x="387" y="1273" width="77" height="25" fill="#320008" />
<rect x="464" y="1273" width="38" height="25" fill="#060405" />
<rect x="502" y="1273" width="38" height="25" fill="#ff0000" />
<rect x="540" y="1273" width="38" height="25" fill="#550002" />
<rect x="578" y="1273" width="39" height="25" fill="#060405" />
<rect x="617" y="1273" width="38" height="25" fill="#7a0000" />
</g>
<rect x="12.5" y="54" width="21.5" height="21" fill="#00a800" />
<rect x="49.5" y="54" width="24.5" height="21" fill="#00a800" />
<rect x="87" y="54" width="24" height="21" fill="#00a800" />
<rect x="127" y="54" width="25" height="21" fill="#0040ff" />
<rect x="164" y="54" width="25" height="21" fill="#0040ff" />
<rect x="201" y="54" width="25" height="21" fill="#0040ff" />
<rect x="242" y="54" width="24" height="21" fill="#0040ff" />
<rect x="279" y="54" width="24" height="21" fill="#0040ff" />
<rect x="319" y="54" width="23" height="21" fill="#080808" />
<rect x="356" y="54" width="25" height="21" fill="#080808" />
<rect x="393" y="54" width="25" height="21" fill="#080808" />
<rect x="433.5" y="54" width="23" height="21" fill="#080808" />
<rect x="471" y="54" width="24" height="21" fill="#ff0000" />
<rect x="509.5" y="54" width="22.5" height="21" fill="#ff0000" />
<rect x="548" y="54" width="23" height="21" fill="#ff0000" />
<rect x="585" y="54" width="24.5" height="21" fill="#ff0000" />
<rect x="623.5" y="54" width="25" height="21" fill="#ff0000" />
<g font-family="'DejaVu Sans',sans-serif" font-size="20.7" fill="#000">
<text transform="translate(661.9 104.53) scale(1.325 1)" dx="0 0.3 0 0 0 0.3 0.5 0.9 0.9 0 -0.7 -0.3">hsa-miR-451a</text>
<text transform="translate(661.9 128.79) scale(1.325 1)" dx="0 0.3 0 0 0 0.3 0.5 0.9 0.9 0 -0.7 -0.3">hsa-miR-25-3p</text>
<text transform="translate(661.9 153.05) scale(1.325 1)" dx="0 0.3 0 0 0 0.3 0.5 0.9 0.9 0 -0.7 -0.3">hsa-miR-144-5p</text>
<text transform="translate(661.9 177.31) scale(1.325 1)" dx="0 0.3 0 0 0 0.3 0.5 0.9 0.9 0 -0.7 -0.3">hsa-miR-106b-5p</text>
<text transform="translate(661.9 201.57) scale(1.325 1)" dx="0 0.3 0 0 0 0.3 0.5 0.9 0.9 0 -0.7 -0.3">hsa-miR-106b-3p</text>
<text transform="translate(661.9 225.83) scale(1.325 1)" dx="0 0.3 0 0 0 0.3 0.5 0.9 0.9 0 -0.7 -0.3">hsa-miR-107</text>
<text transform="translate(661.9 250.09) scale(1.325 1)" dx="0 0.3 0 0 0 0.3 0.5 0.9 0.9 0 -0.7 -0.3">hsa-miR-185-5p</text>
<text transform="translate(661.9 274.35) scale(1.325 1)" dx="0 0.3 0 0 0 0.3 0.5 0.9 0.9 0 -0.7 -0.3">hsa-miR-103b</text>
<text transform="translate(661.9 298.61) scale(1.325 1)" dx="0 0.3 0 0 0 0.3 0.5 0.9 0.9 0 -0.7 -0.3">hsa-miR-103a-3p</text>
<text transform="translate(661.9 322.87) scale(1.325 1)" dx="0 0.3 0 0 0 0.3 0.5 0.9 0.9 0 -0.7 -0.3">hsa-miR-183-5p</text>
<text transform="translate(661.9 347.13) scale(1.325 1)" dx="0 0.3 0 0 0 0.3 0.5 0.9 0.9 0 -0.7 -0.3">hsa-miR-363-3p</text>
<text transform="translate(661.9 371.39) scale(1.325 1)" dx="0 0.3 0 0 0 0.3 0.5 0.9 0.9 0 -0.7 -0.3">hsa-miR-182-5p</text>
<text transform="translate(661.9 395.65) scale(1.325 1)" dx="0 0.3 0 0 0 0.3 0.5 0.9 0.9 0 -0.7 -0.3">hsa-miR-486-5p</text>
<text transform="translate(661.9 419.91) scale(1.325 1)" dx="0 0.3 0 0 0 0.3 0.5 0.9 0.9 0 -0.7 -0.3">hsa-miR-93-5p</text>
<text transform="translate(661.9 444.17) scale(1.325 1)" dx="0 0.3 0 0 0 0.3 0.5 0.9 0.9 0 -0.7 -0.3">hsa-miR-15a-5p</text>
<text transform="translate(661.9 468.43) scale(1.325 1)" dx="0 0.3 0 0 0 0.3 0.5 0.9 0.9 0 -0.7 -0.3">hsa-miR-486-3p</text>
<text transform="translate(661.9 492.69) scale(1.325 1)" dx="0 0.3 0 0 0 0.3 0.5 0.9 0.9 0 -0.7 -0.3">hsa-let-7i-5p</text>
<text transform="translate(661.9 516.95) scale(1.325 1)" dx="0 0.3 0 0 0 0.3 0.5 0.9 0.9 0 -0.7 -0.3">hsa-miR-22-3p</text>
<text transform="translate(661.9 541.21) scale(1.325 1)" dx="0 0.3 0 0 0 0.3 0.5 0.9 0.9 0 -0.7 -0.3">hsa-miR-26b-5p</text>
<text transform="translate(661.9 565.47) scale(1.325 1)" dx="0 0.3 0 0 0 0.3 0.5 0.9 0.9 0 -0.7 -0.3">hsa-miR-192-5p</text>
<text transform="translate(661.9 589.73) scale(1.325 1)" dx="0 0.3 0 0 0 0.3 0.5 0.9 0.9 0 -0.7 -0.3">hsa-let-7d-5p</text>
<text transform="translate(661.9 613.99) scale(1.325 1)" dx="0 0.3 0 0 0 0.3 0.5 0.9 0.9 0 -0.7 -0.3">hsa-miR-320a</text>
<text transform="translate(661.9 638.25) scale(1.325 1)" dx="0 0.3 0 0 0 0.3 0.5 0.9 0.9 0 -0.7 -0.3">hsa-miR-186-5p</text>
<text transform="translate(661.9 662.51) scale(1.325 1)" dx="0 0.3 0 0 0 0.3 0.5 0.9 0.9 0 -0.7 -0.3">hsa-miR-30a-5p</text>
<text transform="translate(661.9 686.77) scale(1.325 1)" dx="0 0.3 0 0 0 0.3 0.5 0.9 0.9 0 -0.7 -0.3">hsa-miR-143-3p</text>
<text transform="translate(661.9 711.03) scale(1.325 1)" dx="0 0.3 0 0 0 0.3 0.5 0.9 0.9 0 -0.7 -0.3">hsa-miR-3184-3p</text>
<text transform="translate(661.9 735.29) scale(1.325 1)" dx="0 0.3 0 0 0 0.3 0.5 0.9 0.9 0 -0.7 -0.3">hsa-miR-151a-3p</text>
<text transform="translate(661.9 759.55) scale(1.325 1)" dx="0 0.3 0 0 0 0.3 0.5 0.9 0.9 0 -0.7 -0.3">hsa-miR-423-5p</text>
<text transform="translate(661.9 783.81) scale(1.325 1)" dx="0 0.3 0 0 0 0.3 0.5 0.9 0.9 0 -0.7 -0.3">hsa-miR-15b-5p</text>
<text transform="translate(661.9 808.07) scale(1.325 1)" dx="0 0.3 0 0 0 0.3 0.5 0.9 0.9 0 -0.7 -0.3">hsa-miR-151a-5p</text>
<text transform="translate(661.9 832.33) scale(1.325 1)" dx="0 0.3 0 0 0 0.3 0.5 0.9 0.9 0 -0.7 -0.3">hsa-miR-144-3p</text>
<text transform="translate(661.9 856.59) scale(1.325 1)" dx="0 0.3 0 0 0 0.3 0.5 0.9 0.9 0 -0.7 -0.3">hsa-miR-16-5p</text>
<text transform="translate(661.9 880.85) scale(1.325 1)" dx="0 0.3 0 0 0 0.3 0.5 0.9 0.9 0 -0.7 -0.3">hsa-miR-10b-5p</text>
<text transform="translate(661.9 905.11) scale(1.325 1)" dx="0 0.3 0 0 0 0.3 0.5 0.9 0.9 0 -0.7 -0.3">hsa-miR-101-3p</text>
<text transform="translate(661.9 929.37) scale(1.325 1)" dx="0 0.3 0 0 0 0.3 0.5 0.9 0.9 0 -0.7 -0.3">hsa-let-7g-5p</text>
<text transform="translate(661.9 953.63) scale(1.325 1)" dx="0 0.3 0 0 0 0.3 0.5 0.9 0.9 0 -0.7 -0.3">hsa-miR-30d-5p</text>
<text transform="translate(661.9 977.89) scale(1.325 1)" dx="0 0.3 0 0 0 0.3 0.5 0.9 0.9 0 -0.7 -0.3">hsa-miR-30c-5p</text>
<text transform="translate(661.9 1002.15) scale(1.325 1)" dx="0 0.3 0 0 0 0.3 0.5 0.9 0.9 0 -0.7 -0.3">hsa-miR-148a-3p</text>
<text transform="translate(661.9 1026.41) scale(1.325 1)" dx="0 0.3 0 0 0 0.3 0.5 0.9 0.9 0 -0.7 -0.3">hsa-miR-181a-5p</text>
<text transform="translate(661.9 1050.67) scale(1.325 1)" dx="0 0.3 0 0 0 0.3 0.5 0.9 0.9 0 -0.7 -0.3">hsa-miR-146a-5p</text>
<text transform="translate(661.9 1074.93) scale(1.325 1)" dx="0 0.3 0 0 0 0.3 0.5 0.9 0.9 0 -0.7 -0.3">hsa-miR-27a-5p</text>
<text transform="translate(661.9 1099.19) scale(1.325 1)" dx="0 0.3 0 0 0 0.3 0.5 0.9 0.9 0 -0.7 -0.3">hsa-miR-27a-3p</text>
<text transform="translate(661.9 1123.45) scale(1.325 1)" dx="0 0.3 0 0 0 0.3 0.5 0.9 0.9 0 -0.7 -0.3">hsa-miR-423-3p</text>
<text transform="translate(661.9 1147.71) scale(1.325 1)" dx="0 0.3 0 0 0 0.3 0.5 0.9 0.9 0 -0.7 -0.3">hsa-miR-146b-5p</text>
<text transform="translate(661.9 1171.97) scale(1.325 1)" dx="0 0.3 0 0 0 0.3 0.5 0.9 0.9 0 -0.7 -0.3">hsa-miR-378a-3p</text>
<text transform="translate(661.9 1196.23) scale(1.325 1)" dx="0 0.3 0 0 0 0.3 0.5 0.9 0.9 0 -0.7 -0.3">hsa-miR-221-3p</text>
<text transform="translate(661.9 1220.49) scale(1.325 1)" dx="0 0.3 0 0 0 0.3 0.5 0.9 0.9 0 -0.7 -0.3">hsa-miR-340-5p</text>
<text transform="translate(661.9 1244.75) scale(1.325 1)" dx="0 0.3 0 0 0 0.3 0.5 0.9 0.9 0 -0.7 -0.3">hsa-miR-181a-3p</text>
<text transform="translate(661.9 1269.01) scale(1.325 1)" dx="0 0.3 0 0 0 0.3 0.5 0.9 0.9 0 -0.7 -0.3">hsa-miR-30e-3p</text>
<text transform="translate(661.9 1293.27) scale(1.325 1)" dx="0 0.3 0 0 0 0.3 0.5 0.9 0.9 0 -0.7 -0.3">hsa-miR-191-5p</text>
</g>
<g font-family="'DejaVu Sans',sans-serif" font-size="36.5" fill="#000" stroke="#fff" stroke-width="0.7">
<text transform="translate(12 1305) rotate(90)" textLength="129.5" lengthAdjust="spacingAndGlyphs">healthy</text>
<text transform="translate(50 1305) rotate(90)" textLength="129.5" lengthAdjust="spacingAndGlyphs">healthy</text>
<text transform="translate(86 1305) rotate(90)" textLength="129.5" lengthAdjust="spacingAndGlyphs">healthy</text>
<text transform="translate(127.5 1303.8) rotate(90)" textLength="162" lengthAdjust="spacingAndGlyphs">FLT3-WT</text>
<text transform="translate(164.5 1303.8) rotate(90)" textLength="162" lengthAdjust="spacingAndGlyphs">FLT3-WT</text>
<text transform="translate(201 1303.8) rotate(90)" textLength="162" lengthAdjust="spacingAndGlyphs">FLT3-WT</text>
<text transform="translate(242 1303.8) rotate(90)" textLength="162" lengthAdjust="spacingAndGlyphs">FLT3-WT</text>
<text transform="translate(279 1303.8) rotate(90)" textLength="162" lengthAdjust="spacingAndGlyphs">FLT3-WT</text>
<text transform="translate(319.5 1303.8) rotate(90)" textLength="174.5" lengthAdjust="spacingAndGlyphs">FLT3-TKD</text>
<text transform="translate(356 1303.8) rotate(90)" textLength="174.5" lengthAdjust="spacingAndGlyphs">FLT3-TKD</text>
<text transform="translate(394 1303.8) rotate(90)" textLength="174.5" lengthAdjust="spacingAndGlyphs">FLT3-TKD</text>
<text transform="translate(434 1303.8) rotate(90)" textLength="174.5" lengthAdjust="spacingAndGlyphs">FLT3-TKD</text>
<text transform="translate(471 1303.8) rotate(90)" textLength="165" lengthAdjust="spacingAndGlyphs">FLT3-ITD</text>
<text transform="translate(509.5 1303.8) rotate(90)" textLength="165" lengthAdjust="spacingAndGlyphs">FLT3-ITD</text>
<text transform="translate(548 1303.8) rotate(90)" textLength="165" lengthAdjust="spacingAndGlyphs">FLT3-ITD</text>
<text transform="translate(585 1303.8) rotate(90)" textLength="165" lengthAdjust="spacingAndGlyphs">FLT3-ITD</text>
<text transform="translate(623.75 1303.8) rotate(90)" textLength="165" lengthAdjust="spacingAndGlyphs">FLT3-ITD</text>
</g>
<text transform="translate(3 34)" font-family="'Liberation Sans',sans-serif" font-size="41" font-weight="bold" text-anchor="start" fill="#000" >a</text>
<defs><linearGradient id="zg" x1="0" x2="1" y1="0" y2="0"><stop offset="0" stop-color="#00ff00"/><stop offset="0.10" stop-color="#00ff00"/><stop offset="0.25" stop-color="#009000"/><stop offset="0.40" stop-color="#002800"/><stop offset="0.5" stop-color="#000000"/><stop offset="0.60" stop-color="#280000"/><stop offset="0.75" stop-color="#900000"/><stop offset="0.90" stop-color="#ff0000"/><stop offset="1" stop-color="#ff0000"/></linearGradient></defs>
<rect x="682" y="1361" width="238" height="34" fill="url(#zg)" />
<line x1="683" y1="1395" x2="683" y2="1417.5" stroke="#8a9a9a" stroke-width="1.2" stroke-linecap="butt"/>
<line x1="742.5" y1="1395" x2="742.5" y2="1417.5" stroke="#8a9a9a" stroke-width="1.2" stroke-linecap="butt"/>
<line x1="802" y1="1395" x2="802" y2="1417.5" stroke="#8a9a9a" stroke-width="1.2" stroke-linecap="butt"/>
<line x1="861.5" y1="1395" x2="861.5" y2="1417.5" stroke="#8a9a9a" stroke-width="1.2" stroke-linecap="butt"/>
<line x1="921" y1="1395" x2="921" y2="1417.5" stroke="#8a9a9a" stroke-width="1.2" stroke-linecap="butt"/>
<line x1="694.9" y1="1395" x2="694.9" y2="1401" stroke="#c8d4d4" stroke-width="1" stroke-linecap="butt"/>
<line x1="706.8" y1="1395" x2="706.8" y2="1401" stroke="#c8d4d4" stroke-width="1" stroke-linecap="butt"/>
<line x1="718.7" y1="1395" x2="718.7" y2="1401" stroke="#c8d4d4" stroke-width="1" stroke-linecap="butt"/>
<line x1="730.6" y1="1395" x2="730.6" y2="1401" stroke="#c8d4d4" stroke-width="1" stroke-linecap="butt"/>
<line x1="754.4" y1="1395" x2="754.4" y2="1401" stroke="#c8d4d4" stroke-width="1" stroke-linecap="butt"/>
<line x1="766.3" y1="1395" x2="766.3" y2="1401" stroke="#c8d4d4" stroke-width="1" stroke-linecap="butt"/>
<line x1="778.2" y1="1395" x2="778.2" y2="1401" stroke="#c8d4d4" stroke-width="1" stroke-linecap="butt"/>
<line x1="790.1" y1="1395" x2="790.1" y2="1401" stroke="#c8d4d4" stroke-width="1" stroke-linecap="butt"/>
<line x1="813.9" y1="1395" x2="813.9" y2="1401" stroke="#c8d4d4" stroke-width="1" stroke-linecap="butt"/>
<line x1="825.8" y1="1395" x2="825.8" y2="1401" stroke="#c8d4d4" stroke-width="1" stroke-linecap="butt"/>
<line x1="837.7" y1="1395" x2="837.7" y2="1401" stroke="#c8d4d4" stroke-width="1" stroke-linecap="butt"/>
<line x1="849.6" y1="1395" x2="849.6" y2="1401" stroke="#c8d4d4" stroke-width="1" stroke-linecap="butt"/>
<line x1="873.4" y1="1395" x2="873.4" y2="1401" stroke="#c8d4d4" stroke-width="1" stroke-linecap="butt"/>
<line x1="885.3" y1="1395" x2="885.3" y2="1401" stroke="#c8d4d4" stroke-width="1" stroke-linecap="butt"/>
<line x1="897.2" y1="1395" x2="897.2" y2="1401" stroke="#c8d4d4" stroke-width="1" stroke-linecap="butt"/>
<line x1="909.1" y1="1395" x2="909.1" y2="1401" stroke="#c8d4d4" stroke-width="1" stroke-linecap="butt"/>
<text transform="translate(800 1352)" font-family="'DejaVu Sans',sans-serif" font-size="23.5" font-weight="bold" text-anchor="middle" fill="#111" >Z-score</text>
<text transform="translate(677 1449)" font-family="'DejaVu Sans',sans-serif" font-size="23.5" text-anchor="middle" fill="#000" stroke="#000" stroke-width="0.4">-2</text>
<text transform="translate(801.5 1449)" font-family="'DejaVu Sans',sans-serif" font-size="23.5" text-anchor="middle" fill="#000" stroke="#000" stroke-width="0.4">0</text>
<text transform="translate(921 1449)" font-family="'DejaVu Sans',sans-serif" font-size="23.5" text-anchor="middle" fill="#000" stroke="#000" stroke-width="0.4">2</text>
<text transform="translate(979.5 32)" font-family="'Liberation Sans',sans-serif" font-size="39.5" font-weight="bold" text-anchor="start" fill="#000" >b</text>
<text transform="translate(1117.5 51.3)" font-family="'Liberation Sans',sans-serif" font-size="36" font-weight="bold" text-anchor="start" fill="#000" textLength="81.5" lengthAdjust="spacing" >NGS</text>
<text transform="translate(1257 92.5)" font-family="'Liberation Sans',sans-serif" font-size="27" font-weight="bold" text-anchor="middle" fill="#000" textLength="22" lengthAdjust="spacingAndGlyphs" >**</text>
<path d="M1158 119 V95.8 H1346.6 V156 M1255.6 178.5 V156 H1433 V178.5" fill="none" stroke="#000" stroke-width="3"/>
<line x1="1115.7" y1="108.5" x2="1115.7" y2="225.1" stroke="#000" stroke-width="2.8" stroke-linecap="butt"/>
<line x1="1107.4" y1="109.9" x2="1115.7" y2="109.9" stroke="#000" stroke-width="2.8" stroke-linecap="butt"/>
<line x1="1107.4" y1="132.7" x2="1115.7" y2="132.7" stroke="#000" stroke-width="2.8" stroke-linecap="butt"/>
<line x1="1107.4" y1="155.5" x2="1115.7" y2="155.5" stroke="#000" stroke-width="2.8" stroke-linecap="butt"/>
<line x1="1107.4" y1="178.2" x2="1115.7" y2="178.2" stroke="#000" stroke-width="2.8" stroke-linecap="butt"/>
<line x1="1107.4" y1="200.9" x2="1115.7" y2="200.9" stroke="#000" stroke-width="2.8" stroke-linecap="butt"/>
<line x1="1107.4" y1="223.7" x2="1122.7" y2="223.7" stroke="#000" stroke-width="2.8" stroke-linecap="butt"/>
<text transform="translate(1104.8 116.6)" font-family="'Liberation Sans',sans-serif" font-size="19.3" font-weight="bold" text-anchor="end" fill="#000" textLength="67.2" lengthAdjust="spacingAndGlyphs" >800000</text>
<text transform="translate(1104.8 139.4)" font-family="'Liberation Sans',sans-serif" font-size="19.3" font-weight="bold" text-anchor="end" fill="#000" textLength="67.2" lengthAdjust="spacingAndGlyphs" >700000</text>
<text transform="translate(1104.8 162.2)" font-family="'Liberation Sans',sans-serif" font-size="19.3" font-weight="bold" text-anchor="end" fill="#000" textLength="67.2" lengthAdjust="spacingAndGlyphs" >600000</text>
<text transform="translate(1104.8 184.9)" font-family="'Liberation Sans',sans-serif" font-size="19.3" font-weight="bold" text-anchor="end" fill="#000" textLength="67.2" lengthAdjust="spacingAndGlyphs" >500000</text>
<text transform="translate(1104.8 207.6)" font-family="'Liberation Sans',sans-serif" font-size="19.3" font-weight="bold" text-anchor="end" fill="#000" textLength="67.2" lengthAdjust="spacingAndGlyphs" >400000</text>
<text transform="translate(1104.8 230.4)" font-family="'Liberation Sans',sans-serif" font-size="19.3" font-weight="bold" text-anchor="end" fill="#000" textLength="67.2" lengthAdjust="spacingAndGlyphs" >300000</text>
<line x1="1115.7" y1="253.8" x2="1115.7" y2="305.2" stroke="#000" stroke-width="2.8" stroke-linecap="butt"/>
<line x1="1107.4" y1="255.2" x2="1122.7" y2="255.2" stroke="#000" stroke-width="2.8" stroke-linecap="butt"/>
<line x1="1107.4" y1="279.5" x2="1115.7" y2="279.5" stroke="#000" stroke-width="2.8" stroke-linecap="butt"/>
<line x1="1107.4" y1="303.8" x2="1122.7" y2="303.8" stroke="#000" stroke-width="2.8" stroke-linecap="butt"/>
<text transform="translate(1104.8 261.9)" font-family="'Liberation Sans',sans-serif" font-size="19.3" font-weight="bold" text-anchor="end" fill="#000" textLength="56" lengthAdjust="spacingAndGlyphs" >20000</text>
<text transform="translate(1104.8 286.2)" font-family="'Liberation Sans',sans-serif" font-size="19.3" font-weight="bold" text-anchor="end" fill="#000" textLength="56" lengthAdjust="spacingAndGlyphs" >19500</text>
<text transform="translate(1104.8 310.5)" font-family="'Liberation Sans',sans-serif" font-size="19.3" font-weight="bold" text-anchor="end" fill="#000" textLength="56" lengthAdjust="spacingAndGlyphs" >19000</text>
<line x1="1115.7" y1="333.7" x2="1115.7" y2="420.6" stroke="#000" stroke-width="2.8" stroke-linecap="butt"/>
<line x1="1107.4" y1="335.1" x2="1122.7" y2="335.1" stroke="#000" stroke-width="2.8" stroke-linecap="butt"/>
<line x1="1107.4" y1="363.1" x2="1115.7" y2="363.1" stroke="#000" stroke-width="2.8" stroke-linecap="butt"/>
<line x1="1107.4" y1="391.3" x2="1115.7" y2="391.3" stroke="#000" stroke-width="2.8" stroke-linecap="butt"/>
<line x1="1107.4" y1="419.2" x2="1115.7" y2="419.2" stroke="#000" stroke-width="2.8" stroke-linecap="butt"/>
<text transform="translate(1104.8 341.8)" font-family="'Liberation Sans',sans-serif" font-size="19.3" font-weight="bold" text-anchor="end" fill="#000" textLength="44.8" lengthAdjust="spacingAndGlyphs" >1500</text>
<text transform="translate(1104.8 369.8)" font-family="'Liberation Sans',sans-serif" font-size="19.3" font-weight="bold" text-anchor="end" fill="#000" textLength="44.8" lengthAdjust="spacingAndGlyphs" >1000</text>
<text transform="translate(1104.8 398)" font-family="'Liberation Sans',sans-serif" font-size="19.3" font-weight="bold" text-anchor="end" fill="#000" textLength="33.6" lengthAdjust="spacingAndGlyphs" >500</text>
<text transform="translate(1104.8 425.9)" font-family="'Liberation Sans',sans-serif" font-size="19.3" font-weight="bold" text-anchor="end" fill="#000" textLength="11.2" lengthAdjust="spacingAndGlyphs" >0</text>
<line x1="1107" y1="419.2" x2="1478.4" y2="419.2" stroke="#000" stroke-width="2.8" stroke-linecap="butt"/>
<line x1="1159.8" y1="419.2" x2="1159.8" y2="426.3" stroke="#000" stroke-width="2.8" stroke-linecap="butt"/>
<line x1="1250" y1="419.2" x2="1250" y2="426.3" stroke="#000" stroke-width="2.8" stroke-linecap="butt"/>
<line x1="1340.7" y1="419.2" x2="1340.7" y2="426.3" stroke="#000" stroke-width="2.8" stroke-linecap="butt"/>
<line x1="1432" y1="419.2" x2="1432" y2="426.3" stroke="#000" stroke-width="2.8" stroke-linecap="butt"/>
<text transform="translate(1001 264) rotate(-90)" font-family="'Liberation Sans',sans-serif" font-size="25" font-weight="bold" text-anchor="middle" fill="#000" textLength="203" lengthAdjust="spacingAndGlyphs" >reads per million</text>
<text transform="translate(1032.5 264.5) rotate(-90)" font-family="'Liberation Sans',sans-serif" font-size="25" font-weight="bold" text-anchor="middle" fill="#000" textLength="147" lengthAdjust="spacingAndGlyphs" >of miR-451a</text>
<circle cx="1159.8" cy="141.75" r="5.5" fill="#000"/>
<circle cx="1159.8" cy="174.15" r="5.5" fill="#000"/>
<circle cx="1159.8" cy="200.07" r="5.5" fill="#000"/>
<line x1="1129.5" y1="174.2" x2="1190.3" y2="174.2" stroke="#000" stroke-width="2.6" stroke-linecap="butt"/>
<rect x="1238.5" y="342.25" width="10" height="10" fill="#000" />
<rect x="1253.35" y="351.16" width="10" height="10" fill="#000" />
<rect x="1231.21" y="401.65" width="10" height="10" fill="#000" />
<rect x="1260.1" y="401.65" width="10" height="10" fill="#000" />
<rect x="1245.25" y="407.05" width="10" height="10" fill="#000" />
<line x1="1220" y1="406.6" x2="1281.3" y2="406.6" stroke="#000" stroke-width="2.6" stroke-linecap="butt"/>
<polygon points="1341.24,379.24 1346.74,389.24 1335.74,389.24" fill="#000"/>
<polygon points="1319.1,412.72 1324.6,422.72 1313.6,422.72" fill="#000"/>
<polygon points="1333.95,413.26 1339.45,423.26 1328.45,423.26" fill="#000"/>
<polygon points="1348.8,413.26 1354.3,423.26 1343.3,423.26" fill="#000"/>
<polygon points="1363.11,407.86 1368.61,417.86 1357.61,417.86" fill="#000"/>
<line x1="1311" y1="417.2" x2="1370" y2="417.2" stroke="#000" stroke-width="2.6" stroke-linecap="butt"/>
<polygon points="1431.96,277.7 1437.46,267.7 1426.46,267.7" fill="#000"/>
<polygon points="1431.96,344.96 1437.46,334.96 1426.46,334.96" fill="#000"/>
<polygon points="1431.96,390.05 1437.46,380.05 1426.46,380.05" fill="#000"/>
<polygon points="1431.96,408.95 1437.46,398.95 1426.46,398.95" fill="#000"/>
<line x1="1400.6" y1="363" x2="1462.2" y2="363" stroke="#000" stroke-width="2.6" stroke-linecap="butt"/>
<text transform="translate(1165.8 443.5) rotate(-45)" font-family="'Liberation Sans',sans-serif" font-size="22.5" font-weight="bold" text-anchor="end" fill="#000" textLength="84" lengthAdjust="spacingAndGlyphs" >healthy</text>
<text transform="translate(1256 443.5) rotate(-45)" font-family="'Liberation Sans',sans-serif" font-size="22.5" font-weight="bold" text-anchor="end" fill="#000" textLength="100" lengthAdjust="spacingAndGlyphs" >FLT3-WT</text>
<text transform="translate(1346.7 443.5) rotate(-45)" font-family="'Liberation Sans',sans-serif" font-size="22.5" font-weight="bold" text-anchor="end" fill="#000" textLength="103" lengthAdjust="spacingAndGlyphs" >FLT3-ITD</text>
<text transform="translate(1438 443.5) rotate(-45)" font-family="'Liberation Sans',sans-serif" font-size="22.5" font-weight="bold" text-anchor="end" fill="#000" textLength="112" lengthAdjust="spacingAndGlyphs" >FLT3-TKD</text>
<text transform="translate(1531 32.5)" font-family="'Liberation Sans',sans-serif" font-size="39" font-weight="bold" text-anchor="start" fill="#000" >c</text>
<text transform="translate(1629.5 51.3)" font-family="'Liberation Sans',sans-serif" font-size="36.5" font-weight="bold" text-anchor="start" fill="#000" textLength="104" lengthAdjust="spacing" >TCGA</text>
<line x1="1631.9" y1="105.2" x2="1631.9" y2="423.3" stroke="#000" stroke-width="2.8" stroke-linecap="butt"/>
<line x1="1624.7" y1="106.5" x2="1631.9" y2="106.5" stroke="#000" stroke-width="2.3" stroke-linecap="butt"/>
<text transform="translate(1622 107.1)" font-family="'Liberation Sans',sans-serif" font-size="13.5" text-anchor="end" fill="#000" textLength="13.6" lengthAdjust="spacingAndGlyphs" stroke="#000" stroke-width="0.3">20</text>
<text transform="translate(1606.2 112.5)" font-family="'Liberation Sans',sans-serif" font-size="19" text-anchor="end" fill="#000" stroke="#000" stroke-width="0.6">2</text>
<line x1="1624.7" y1="212" x2="1631.9" y2="212" stroke="#000" stroke-width="2.3" stroke-linecap="butt"/>
<text transform="translate(1622 212.6)" font-family="'Liberation Sans',sans-serif" font-size="13.5" text-anchor="end" fill="#000" textLength="13.6" lengthAdjust="spacingAndGlyphs" stroke="#000" stroke-width="0.3">15</text>
<text transform="translate(1606.2 218)" font-family="'Liberation Sans',sans-serif" font-size="19" text-anchor="end" fill="#000" stroke="#000" stroke-width="0.6">2</text>
<line x1="1624.7" y1="317" x2="1631.9" y2="317" stroke="#000" stroke-width="2.3" stroke-linecap="butt"/>
<text transform="translate(1622 317.6)" font-family="'Liberation Sans',sans-serif" font-size="13.5" text-anchor="end" fill="#000" textLength="13.6" lengthAdjust="spacingAndGlyphs" stroke="#000" stroke-width="0.3">10</text>
<text transform="translate(1606.2 323)" font-family="'Liberation Sans',sans-serif" font-size="19" text-anchor="end" fill="#000" stroke="#000" stroke-width="0.6">2</text>
<line x1="1624.7" y1="422" x2="1631.9" y2="422" stroke="#000" stroke-width="2.3" stroke-linecap="butt"/>
<text transform="translate(1622 422.6)" font-family="'Liberation Sans',sans-serif" font-size="13.5" text-anchor="end" fill="#000" textLength="6.8" lengthAdjust="spacingAndGlyphs" stroke="#000" stroke-width="0.3">5</text>
<text transform="translate(1613 428)" font-family="'Liberation Sans',sans-serif" font-size="19" text-anchor="end" fill="#000" stroke="#000" stroke-width="0.6">2</text>
<line x1="1626" y1="422" x2="1995" y2="422" stroke="#000" stroke-width="2.8" stroke-linecap="butt"/>
<line x1="1721.75" y1="422" x2="1721.75" y2="428.5" stroke="#000" stroke-width="2.8" stroke-linecap="butt"/>
<line x1="1902.5" y1="422" x2="1902.5" y2="428.5" stroke="#000" stroke-width="2.8" stroke-linecap="butt"/>
<line x1="1719.5" y1="157" x2="1897.5" y2="157" stroke="#000" stroke-width="2" stroke-linecap="butt"/>
<text transform="translate(1810 147)" font-family="'Liberation Sans',sans-serif" font-size="22" font-weight="bold" text-anchor="middle" fill="#000" >*</text>
<text transform="translate(1552.5 262) rotate(-90)" font-family="'Liberation Sans',sans-serif" font-size="25" font-weight="bold" text-anchor="middle" fill="#000" textLength="203" lengthAdjust="spacingAndGlyphs" >reads per million</text>
<text transform="translate(1586.5 262) rotate(-90)" font-family="'Liberation Sans',sans-serif" font-size="25" font-weight="bold" text-anchor="middle" fill="#000" textLength="147" lengthAdjust="spacingAndGlyphs" >of miR-451a</text>
<rect x="1717.5" y="196.25" width="9" height="9" fill="#000" />
<rect x="1712.5" y="225.5" width="9" height="9" fill="#000" />
<rect x="1701" y="238.75" width="9" height="9" fill="#000" />
<rect x="1723" y="238.75" width="9" height="9" fill="#000" />
<rect x="1733" y="235.5" width="9" height="9" fill="#000" />
<rect x="1712.5" y="246.25" width="9" height="9" fill="#000" />
<rect x="1712.5" y="258.75" width="9" height="9" fill="#000" />
<rect x="1723" y="260" width="9" height="9" fill="#000" />
<rect x="1706.75" y="269.25" width="9" height="9" fill="#000" />
<rect x="1728.5" y="270.5" width="9" height="9" fill="#000" />
<rect x="1717.5" y="272.5" width="9" height="9" fill="#000" />
<rect x="1684.25" y="275.5" width="9" height="9" fill="#000" />
<rect x="1750" y="275" width="9" height="9" fill="#000" />
<rect x="1739.25" y="279.25" width="9" height="9" fill="#000" />
<rect x="1695.5" y="282.5" width="9" height="9" fill="#000" />
<rect x="1706.75" y="285.5" width="9" height="9" fill="#000" />
<rect x="1717.5" y="285.5" width="9" height="9" fill="#000" />
<rect x="1728.5" y="285.5" width="9" height="9" fill="#000" />
<rect x="1744.75" y="286.75" width="9" height="9" fill="#000" />
<rect x="1690" y="290" width="9" height="9" fill="#000" />
<rect x="1701" y="293" width="9" height="9" fill="#000" />
<rect x="1723" y="293" width="9" height="9" fill="#000" />
<rect x="1734.25" y="291.75" width="9" height="9" fill="#000" />
<rect x="1673" y="298" width="9" height="9" fill="#000" />
<rect x="1684.25" y="301" width="9" height="9" fill="#000" />
<rect x="1695.5" y="301" width="9" height="9" fill="#000" />
<rect x="1706.75" y="298" width="9" height="9" fill="#000" />
<rect x="1717.5" y="299.25" width="9" height="9" fill="#000" />
<rect x="1728.5" y="301" width="9" height="9" fill="#000" />
<rect x="1739.25" y="301" width="9" height="9" fill="#000" />
<rect x="1750" y="299.25" width="9" height="9" fill="#000" />
<rect x="1761" y="298" width="9" height="9" fill="#000" />
<rect x="1701" y="305.5" width="9" height="9" fill="#000" />
<rect x="1717.5" y="306.75" width="9" height="9" fill="#000" />
<rect x="1734.25" y="308" width="9" height="9" fill="#000" />
<rect x="1701" y="311" width="9" height="9" fill="#000" />
<rect x="1723" y="314.25" width="9" height="9" fill="#000" />
<rect x="1712.5" y="319.25" width="9" height="9" fill="#000" />
<rect x="1701" y="324.25" width="9" height="9" fill="#000" />
<rect x="1739.25" y="325.5" width="9" height="9" fill="#000" />
<rect x="1712.5" y="331.75" width="9" height="9" fill="#000" />
<rect x="1728.5" y="334.25" width="9" height="9" fill="#000" />
<rect x="1734.25" y="340.5" width="9" height="9" fill="#000" />
<rect x="1695.5" y="343" width="9" height="9" fill="#000" />
<rect x="1723" y="343.5" width="9" height="9" fill="#000" />
<rect x="1706.75" y="346.25" width="9" height="9" fill="#000" />
<rect x="1712.5" y="352.5" width="9" height="9" fill="#000" />
<rect x="1723" y="362.5" width="9" height="9" fill="#000" />
<rect x="1717.5" y="374.25" width="9" height="9" fill="#000" />
<polygon points="1903,227.5 1907.75,236.5 1898.25,236.5" fill="#000"/>
<polygon points="1892,236.75 1896.75,245.75 1887.25,245.75" fill="#000"/>
<polygon points="1913.75,239.25 1918.5,248.25 1909,248.25" fill="#000"/>
<polygon points="1903,243.75 1907.75,252.75 1898.25,252.75" fill="#000"/>
<polygon points="1897.5,288.5 1902.25,297.5 1892.75,297.5" fill="#000"/>
<polygon points="1913.75,294.25 1918.5,303.25 1909,303.25" fill="#000"/>
<polygon points="1886.75,300 1891.5,309 1882,309" fill="#000"/>
<polygon points="1919.5,300 1924.25,309 1914.75,309" fill="#000"/>
<polygon points="1908.25,303.5 1913,312.5 1903.5,312.5" fill="#000"/>
<polygon points="1897.5,308.75 1902.25,317.75 1892.75,317.75" fill="#000"/>
<polygon points="1892,327.5 1896.75,336.5 1887.25,336.5" fill="#000"/>
<polygon points="1913.75,327.5 1918.5,336.5 1909,336.5" fill="#000"/>
<polygon points="1903,333 1907.75,342 1898.25,342" fill="#000"/>
<polygon points="1881.25,338.5 1886,347.5 1876.5,347.5" fill="#000"/>
<polygon points="1925,340.5 1929.75,349.5 1920.25,349.5" fill="#000"/>
<polygon points="1892,342.25 1896.75,351.25 1887.25,351.25" fill="#000"/>
<polygon points="1913.75,342.25 1918.5,351.25 1909,351.25" fill="#000"/>
<polygon points="1903,345 1907.75,354 1898.25,354" fill="#000"/>
<polygon points="1897.5,356.25 1902.25,365.25 1892.75,365.25" fill="#000"/>
<polygon points="1908.25,361.25 1913,370.25 1903.5,370.25" fill="#000"/>
<polygon points="1892,366.75 1896.75,375.75 1887.25,375.75" fill="#000"/>
<polygon points="1913.75,373.5 1918.5,382.5 1909,382.5" fill="#000"/>
<polygon points="1903,376 1907.75,385 1898.25,385" fill="#000"/>
<line x1="1662" y1="301.75" x2="1782.5" y2="301.75" stroke="#000" stroke-width="5" stroke-linecap="butt"/>
<line x1="1842" y1="334.25" x2="1963.75" y2="334.25" stroke="#000" stroke-width="5" stroke-linecap="butt"/>
<text transform="translate(1725.75 448.5) rotate(-45)" font-family="'Liberation Sans',sans-serif" font-size="22.5" font-weight="bold" text-anchor="end" fill="#000" textLength="97" lengthAdjust="spacingAndGlyphs" >FLT3-WT</text>
<text transform="translate(1906.5 448.5) rotate(-45)" font-family="'Liberation Sans',sans-serif" font-size="22.5" font-weight="bold" text-anchor="end" fill="#000" textLength="100.5" lengthAdjust="spacingAndGlyphs" >FLT3-ITD</text>
<text transform="translate(980 592.3)" font-family="'Liberation Sans',sans-serif" font-size="39" font-weight="bold" text-anchor="start" fill="#000" >d</text>
<text transform="translate(1120 603.7)" font-family="'Liberation Sans',sans-serif" font-size="35.5" font-weight="bold" text-anchor="start" fill="#000" textLength="88.5" lengthAdjust="spacing" >U937</text>
<line x1="1115.9" y1="639.1" x2="1115.9" y2="883.5" stroke="#000" stroke-width="2.8" stroke-linecap="butt"/>
<line x1="1108.3" y1="640.4" x2="1115.9" y2="640.4" stroke="#000" stroke-width="2.8" stroke-linecap="butt"/>
<text transform="translate(1106.3 647)" font-family="'Liberation Sans',sans-serif" font-size="19.3" font-weight="bold" text-anchor="end" fill="#000" textLength="27.3" lengthAdjust="spacingAndGlyphs" >1.5</text>
<line x1="1108.3" y1="721.2" x2="1115.9" y2="721.2" stroke="#000" stroke-width="2.8" stroke-linecap="butt"/>
<text transform="translate(1106.3 727.8)" font-family="'Liberation Sans',sans-serif" font-size="19.3" font-weight="bold" text-anchor="end" fill="#000" textLength="27.3" lengthAdjust="spacingAndGlyphs" >1.0</text>
<line x1="1108.3" y1="801.7" x2="1115.9" y2="801.7" stroke="#000" stroke-width="2.8" stroke-linecap="butt"/>
<text transform="translate(1106.3 808.3)" font-family="'Liberation Sans',sans-serif" font-size="19.3" font-weight="bold" text-anchor="end" fill="#000" textLength="27.3" lengthAdjust="spacingAndGlyphs" >0.5</text>
<line x1="1108.3" y1="882.2" x2="1115.9" y2="882.2" stroke="#000" stroke-width="2.8" stroke-linecap="butt"/>
<text transform="translate(1106.3 888.8)" font-family="'Liberation Sans',sans-serif" font-size="19.3" font-weight="bold" text-anchor="end" fill="#000" textLength="27.3" lengthAdjust="spacingAndGlyphs" >0.0</text>
<line x1="1108.3" y1="882.2" x2="1235.7" y2="882.2" stroke="#000" stroke-width="2.8" stroke-linecap="butt"/>
<line x1="1145.4" y1="882.2" x2="1145.4" y2="889" stroke="#000" stroke-width="2.8" stroke-linecap="butt"/>
<line x1="1204.6" y1="882.2" x2="1204.6" y2="889" stroke="#000" stroke-width="2.8" stroke-linecap="butt"/>
<rect x="1125.4" y="721.2" width="39.9" height="161" fill="#050505" />
<rect x="1184.3" y="829" width="41.2" height="53.2" fill="#050505" />
<line x1="1204.6" y1="803.9" x2="1204.6" y2="830" stroke="#000" stroke-width="2.8" stroke-linecap="butt"/>
<line x1="1195" y1="803.9" x2="1215" y2="803.9" stroke="#000" stroke-width="2.8" stroke-linecap="butt"/>
<text transform="translate(1206 803.5)" font-family="'Liberation Sans',sans-serif" font-size="21" text-anchor="middle" fill="#000" textLength="13.5" lengthAdjust="spacingAndGlyphs" >**</text>
<text transform="translate(1064 761) rotate(-90)" font-family="'Liberation Sans',sans-serif" font-size="23.5" text-anchor="middle" fill="#000" textLength="168" lengthAdjust="spacingAndGlyphs" stroke="#000" stroke-width="0.8">miR-451a/U44</text>
<text transform="translate(1149.9 904) rotate(-45)" font-family="'Liberation Sans',sans-serif" font-size="19" font-weight="bold" text-anchor="end" fill="#000" textLength="47" lengthAdjust="spacingAndGlyphs" >GFP</text>
<text transform="translate(1209.1 904) rotate(-45)" font-family="'Liberation Sans',sans-serif" font-size="19" font-weight="bold" text-anchor="end" fill="#000" textLength="101" lengthAdjust="spacingAndGlyphs" >FLT3-ITD</text>
<text transform="translate(1532 592.3)" font-family="'Liberation Sans',sans-serif" font-size="39" font-weight="bold" text-anchor="start" fill="#000" >e</text>
<text transform="translate(1632.5 603.7)" font-family="'Liberation Sans',sans-serif" font-size="35.5" font-weight="bold" text-anchor="start" fill="#000" textLength="68" lengthAdjust="spacing" >32D</text>
<line x1="1631.5" y1="639.1" x2="1631.5" y2="883.5" stroke="#000" stroke-width="2.8" stroke-linecap="butt"/>
<line x1="1624.2" y1="640.4" x2="1631.5" y2="640.4" stroke="#000" stroke-width="2.8" stroke-linecap="butt"/>
<text transform="translate(1622.5 646.9)" font-family="'Liberation Sans',sans-serif" font-size="19" text-anchor="end" fill="#000" textLength="27" lengthAdjust="spacingAndGlyphs" stroke="#000" stroke-width="0.6">1.5</text>
<line x1="1624.2" y1="721.2" x2="1631.5" y2="721.2" stroke="#000" stroke-width="2.8" stroke-linecap="butt"/>
<text transform="translate(1622.5 727.7)" font-family="'Liberation Sans',sans-serif" font-size="19" text-anchor="end" fill="#000" textLength="27" lengthAdjust="spacingAndGlyphs" stroke="#000" stroke-width="0.6">1.0</text>
<line x1="1624.2" y1="801.7" x2="1631.5" y2="801.7" stroke="#000" stroke-width="2.8" stroke-linecap="butt"/>
<text transform="translate(1622.5 808.2)" font-family="'Liberation Sans',sans-serif" font-size="19" text-anchor="end" fill="#000" textLength="27" lengthAdjust="spacingAndGlyphs" stroke="#000" stroke-width="0.6">0.5</text>
<line x1="1624.2" y1="882.2" x2="1631.5" y2="882.2" stroke="#000" stroke-width="2.8" stroke-linecap="butt"/>
<text transform="translate(1622.5 888.7)" font-family="'Liberation Sans',sans-serif" font-size="19" text-anchor="end" fill="#000" textLength="27" lengthAdjust="spacingAndGlyphs" stroke="#000" stroke-width="0.6">0.0</text>
<line x1="1624.2" y1="882.2" x2="1747.1" y2="882.2" stroke="#000" stroke-width="2.8" stroke-linecap="butt"/>
<line x1="1660" y1="882.2" x2="1660" y2="889" stroke="#000" stroke-width="2.8" stroke-linecap="butt"/>
<line x1="1717" y1="882.2" x2="1717" y2="889" stroke="#000" stroke-width="2.8" stroke-linecap="butt"/>
<rect x="1641" y="721.2" width="38" height="161" fill="#050505" />
<rect x="1698" y="839.4" width="38" height="42.8" fill="#050505" />
<line x1="1717" y1="794.1" x2="1717" y2="840" stroke="#000" stroke-width="2.8" stroke-linecap="butt"/>
<line x1="1707.5" y1="794.1" x2="1726.5" y2="794.1" stroke="#000" stroke-width="2.8" stroke-linecap="butt"/>
<text transform="translate(1718.6 795)" font-family="'Liberation Sans',sans-serif" font-size="22" text-anchor="middle" fill="#000" >*</text>
<text transform="translate(1584 760.5) rotate(-90)" font-family="'Liberation Sans',sans-serif" font-size="23.5" text-anchor="middle" fill="#000" textLength="207" lengthAdjust="spacingAndGlyphs" stroke="#000" stroke-width="0.8">miR-451a/sno135</text>
<text transform="translate(1664.5 904.5) rotate(-45)" font-family="'Liberation Sans',sans-serif" font-size="20" text-anchor="end" fill="#000" textLength="100" lengthAdjust="spacingAndGlyphs" stroke="#000" stroke-width="0.7">FLT3-WT</text>
<text transform="translate(1721.5 904.5) rotate(-45)" font-family="'Liberation Sans',sans-serif" font-size="20" text-anchor="end" fill="#000" textLength="103" lengthAdjust="spacingAndGlyphs" stroke="#000" stroke-width="0.7">FLT3-ITD</text>
<text transform="translate(982 1059.4)" font-family="'Liberation Sans',sans-serif" font-size="39" font-weight="bold" text-anchor="start" fill="#000" >f</text>
<text transform="translate(1127.5 1075.5)" font-family="'Liberation Sans',sans-serif" font-size="35.5" font-weight="bold" text-anchor="start" fill="#000" textLength="131.5" lengthAdjust="spacing" >MV4;11</text>
<rect x="1124.3" y="1113.3" width="27.5" height="22.3" fill="#050505" />
<text transform="translate(1165 1132.5)" font-family="'Liberation Sans',sans-serif" font-size="25" text-anchor="start" fill="#000" textLength="123" lengthAdjust="spacingAndGlyphs" stroke="#000" stroke-width="0.6">Quizartinib</text>
<rect x="1305.3" y="1114.5" width="25.5" height="20" fill="#718482" stroke="#4a5553" stroke-width="1.8"/>
<text transform="translate(1343.5 1132)" font-family="'Liberation Sans',sans-serif" font-size="25" text-anchor="start" fill="#000" textLength="115" lengthAdjust="spacingAndGlyphs" stroke="#000" stroke-width="0.6">Gilteritinib</text>
<line x1="1113.8" y1="1146.5" x2="1113.8" y2="1260.1" stroke="#000" stroke-width="2.8" stroke-linecap="butt"/>
<line x1="1113.8" y1="1276" x2="1113.8" y2="1390.9" stroke="#000" stroke-width="2.8" stroke-linecap="butt"/>
<line x1="1105.8" y1="1147.8" x2="1113.8" y2="1147.8" stroke="#000" stroke-width="2.8" stroke-linecap="butt"/>
<text transform="translate(1104.8 1154.6)" font-family="'Liberation Sans',sans-serif" font-size="19.5" font-weight="bold" text-anchor="end" fill="#000" textLength="22.8" lengthAdjust="spacingAndGlyphs" >20</text>
<line x1="1105.8" y1="1184.8" x2="1113.8" y2="1184.8" stroke="#000" stroke-width="2.8" stroke-linecap="butt"/>
<text transform="translate(1104.8 1191.6)" font-family="'Liberation Sans',sans-serif" font-size="19.5" font-weight="bold" text-anchor="end" fill="#000" textLength="22.8" lengthAdjust="spacingAndGlyphs" >15</text>
<line x1="1105.8" y1="1221.5" x2="1113.8" y2="1221.5" stroke="#000" stroke-width="2.8" stroke-linecap="butt"/>
<text transform="translate(1104.8 1228.3)" font-family="'Liberation Sans',sans-serif" font-size="19.5" font-weight="bold" text-anchor="end" fill="#000" textLength="22.8" lengthAdjust="spacingAndGlyphs" >10</text>
<line x1="1105.8" y1="1258.8" x2="1120.3" y2="1258.8" stroke="#000" stroke-width="2.8" stroke-linecap="butt"/>
<text transform="translate(1104.8 1265.6)" font-family="'Liberation Sans',sans-serif" font-size="19.5" font-weight="bold" text-anchor="end" fill="#000" textLength="11.4" lengthAdjust="spacingAndGlyphs" >5</text>
<line x1="1105.8" y1="1277.3" x2="1120.3" y2="1277.3" stroke="#000" stroke-width="2.8" stroke-linecap="butt"/>
<text transform="translate(1104.8 1284.1)" font-family="'Liberation Sans',sans-serif" font-size="19.5" font-weight="bold" text-anchor="end" fill="#000" textLength="11.4" lengthAdjust="spacingAndGlyphs" >2</text>
<line x1="1105.8" y1="1333.1" x2="1113.8" y2="1333.1" stroke="#000" stroke-width="2.8" stroke-linecap="butt"/>
<text transform="translate(1104.8 1339.9)" font-family="'Liberation Sans',sans-serif" font-size="19.5" font-weight="bold" text-anchor="end" fill="#000" textLength="11.4" lengthAdjust="spacingAndGlyphs" >1</text>
<line x1="1105.8" y1="1389.6" x2="1113.8" y2="1389.6" stroke="#000" stroke-width="2.8" stroke-linecap="butt"/>
<text transform="translate(1104.8 1396.4)" font-family="'Liberation Sans',sans-serif" font-size="19.5" font-weight="bold" text-anchor="end" fill="#000" textLength="11.4" lengthAdjust="spacingAndGlyphs" >0</text>
<line x1="1105.8" y1="1389.6" x2="1476.7" y2="1389.6" stroke="#000" stroke-width="2.8" stroke-linecap="butt"/>
<line x1="1154.2" y1="1389.6" x2="1154.2" y2="1396.5" stroke="#000" stroke-width="2.8" stroke-linecap="butt"/>
<line x1="1203.6" y1="1389.6" x2="1203.6" y2="1396.5" stroke="#000" stroke-width="2.8" stroke-linecap="butt"/>
<line x1="1252.4" y1="1389.6" x2="1252.4" y2="1396.5" stroke="#000" stroke-width="2.8" stroke-linecap="butt"/>
<line x1="1335.2" y1="1389.6" x2="1335.2" y2="1396.5" stroke="#000" stroke-width="2.8" stroke-linecap="butt"/>
<line x1="1384.8" y1="1389.6" x2="1384.8" y2="1396.5" stroke="#000" stroke-width="2.8" stroke-linecap="butt"/>
<line x1="1434.3" y1="1389.6" x2="1434.3" y2="1396.5" stroke="#000" stroke-width="2.8" stroke-linecap="butt"/>
<rect x="1137" y="1332.2" width="35.1" height="57.4" fill="#050505" />
<rect x="1185.8" y="1232.6" width="35.8" height="27.8" fill="#050505" />
<rect x="1185.8" y="1277.3" width="35.8" height="112.3" fill="#050505" />
<line x1="1203.7" y1="1221.2" x2="1203.7" y2="1233.6" stroke="#000" stroke-width="2.8" stroke-linecap="butt"/>
<line x1="1195.2" y1="1221.2" x2="1212.2" y2="1221.2" stroke="#000" stroke-width="2.8" stroke-linecap="butt"/>
<rect x="1235" y="1191.8" width="35.6" height="68.6" fill="#050505" />
<rect x="1235" y="1277.3" width="35.6" height="112.3" fill="#050505" />
<line x1="1252.8" y1="1156.7" x2="1252.8" y2="1192.8" stroke="#000" stroke-width="2.8" stroke-linecap="butt"/>
<line x1="1244.3" y1="1156.7" x2="1261.3" y2="1156.7" stroke="#000" stroke-width="2.8" stroke-linecap="butt"/>
<rect x="1318.8" y="1333.1" width="33.3" height="56.5" fill="#718482" stroke="#4a5553" stroke-width="1.8"/>
<rect x="1368.2" y="1298.9" width="33.6" height="90.7" fill="#718482" stroke="#4a5553" stroke-width="1.8"/>
<line x1="1385" y1="1292" x2="1385" y2="1299" stroke="#000" stroke-width="2.8" stroke-linecap="butt"/>
<line x1="1376.5" y1="1292" x2="1393.5" y2="1292" stroke="#000" stroke-width="2.8" stroke-linecap="butt"/>
<rect x="1417.7" y="1208" width="33.6" height="52.4" fill="#718482" stroke="#4a5553" stroke-width="1.8"/>
<rect x="1417.7" y="1277.3" width="33.6" height="112.3" fill="#718482" stroke="#4a5553" stroke-width="1.8"/>
<line x1="1434.5" y1="1197.6" x2="1434.5" y2="1208.1" stroke="#000" stroke-width="2.8" stroke-linecap="butt"/>
<line x1="1426" y1="1197.6" x2="1443" y2="1197.6" stroke="#000" stroke-width="2.8" stroke-linecap="butt"/>
<text transform="translate(1204 1222.5)" font-family="'Liberation Sans',sans-serif" font-size="22" font-weight="bold" text-anchor="middle" fill="#000" >*</text>
<text transform="translate(1253 1159.5)" font-family="'Liberation Sans',sans-serif" font-size="22" font-weight="bold" text-anchor="middle" fill="#000" >*</text>
<text transform="translate(1385.2 1290)" font-family="'Liberation Sans',sans-serif" font-size="22" font-weight="bold" text-anchor="middle" fill="#000" >*</text>
<text transform="translate(1434.5 1198.5)" font-family="'Liberation Sans',sans-serif" font-size="22" font-weight="bold" text-anchor="middle" fill="#000" textLength="21.5" lengthAdjust="spacingAndGlyphs" >**</text>
<text transform="translate(1067.3 1267.5) rotate(-90)" font-family="'Liberation Sans',sans-serif" font-size="23.5" font-weight="bold" text-anchor="middle" fill="#000" textLength="168" lengthAdjust="spacingAndGlyphs" >miR-451a/U44</text>
<text transform="translate(1157.5 1412.5) rotate(-45)" font-family="'Liberation Sans',sans-serif" font-size="21.5" font-weight="bold" text-anchor="end" fill="#000" textLength="61" lengthAdjust="spacingAndGlyphs" >CTRL</text>
<text transform="translate(1206 1412.5) rotate(-45)" font-family="'Liberation Sans',sans-serif" font-size="21.5" font-weight="bold" text-anchor="end" fill="#000" textLength="53.5" lengthAdjust="spacingAndGlyphs" >1 nM</text>
<text transform="translate(1254.5 1412.5) rotate(-45)" font-family="'Liberation Sans',sans-serif" font-size="21.5" font-weight="bold" text-anchor="end" fill="#000" textLength="66.5" lengthAdjust="spacingAndGlyphs" >10 nM</text>
<text transform="translate(1338.5 1412.5) rotate(-45)" font-family="'Liberation Sans',sans-serif" font-size="21.5" font-weight="bold" text-anchor="end" fill="#000" textLength="61" lengthAdjust="spacingAndGlyphs" >CTRL</text>
<text transform="translate(1387.5 1412.5) rotate(-45)" font-family="'Liberation Sans',sans-serif" font-size="21.5" font-weight="bold" text-anchor="end" fill="#000" textLength="53.5" lengthAdjust="spacingAndGlyphs" >1 nM</text>
<text transform="translate(1436.5 1412.5) rotate(-45)" font-family="'Liberation Sans',sans-serif" font-size="21.5" font-weight="bold" text-anchor="end" fill="#000" textLength="66.5" lengthAdjust="spacingAndGlyphs" >10 nM</text>
<text transform="translate(1531 1059.4)" font-family="'Liberation Sans',sans-serif" font-size="39" font-weight="bold" text-anchor="start" fill="#000" >g</text>
<text transform="translate(1638.5 1079)" font-family="'Liberation Sans',sans-serif" font-size="34.5" font-weight="bold" text-anchor="start" fill="#000" textLength="77" lengthAdjust="spacing" >UCB</text>
<rect x="1639.7" y="1114.6" width="27.7" height="22.3" fill="#050505" />
<text transform="translate(1681 1134.5)" font-family="'Liberation Sans',sans-serif" font-size="25" text-anchor="start" fill="#000" textLength="122" lengthAdjust="spacingAndGlyphs" stroke="#000" stroke-width="0.6">Quizartinib</text>
<rect x="1823.6" y="1115.5" width="25.5" height="20.5" fill="#718482" stroke="#4a5553" stroke-width="1.8"/>
<text transform="translate(1862.5 1133.5)" font-family="'Liberation Sans',sans-serif" font-size="25" text-anchor="start" fill="#000" textLength="114.5" lengthAdjust="spacingAndGlyphs" stroke="#000" stroke-width="0.6">Gilteritinib</text>
<line x1="1632.3" y1="1146.5" x2="1632.3" y2="1260.1" stroke="#000" stroke-width="2.8" stroke-linecap="butt"/>
<line x1="1632.3" y1="1276" x2="1632.3" y2="1390.9" stroke="#000" stroke-width="2.8" stroke-linecap="butt"/>
<line x1="1624.3" y1="1147.8" x2="1632.3" y2="1147.8" stroke="#000" stroke-width="2.8" stroke-linecap="butt"/>
<text transform="translate(1622.5 1154.6)" font-family="'Liberation Sans',sans-serif" font-size="19.5" font-weight="bold" text-anchor="end" fill="#000" textLength="22.8" lengthAdjust="spacingAndGlyphs" >20</text>
<line x1="1624.3" y1="1184.8" x2="1632.3" y2="1184.8" stroke="#000" stroke-width="2.8" stroke-linecap="butt"/>
<text transform="translate(1622.5 1191.6)" font-family="'Liberation Sans',sans-serif" font-size="19.5" font-weight="bold" text-anchor="end" fill="#000" textLength="22.8" lengthAdjust="spacingAndGlyphs" >15</text>
<line x1="1624.3" y1="1221.5" x2="1632.3" y2="1221.5" stroke="#000" stroke-width="2.8" stroke-linecap="butt"/>
<text transform="translate(1622.5 1228.3)" font-family="'Liberation Sans',sans-serif" font-size="19.5" font-weight="bold" text-anchor="end" fill="#000" textLength="22.8" lengthAdjust="spacingAndGlyphs" >10</text>
<line x1="1624.3" y1="1258.8" x2="1638.8" y2="1258.8" stroke="#000" stroke-width="2.8" stroke-linecap="butt"/>
<text transform="translate(1622.5 1265.6)" font-family="'Liberation Sans',sans-serif" font-size="19.5" font-weight="bold" text-anchor="end" fill="#000" textLength="11.4" lengthAdjust="spacingAndGlyphs" >5</text>
<line x1="1624.3" y1="1277.3" x2="1638.8" y2="1277.3" stroke="#000" stroke-width="2.8" stroke-linecap="butt"/>
<text transform="translate(1622.5 1284.1)" font-family="'Liberation Sans',sans-serif" font-size="19.5" font-weight="bold" text-anchor="end" fill="#000" textLength="11.4" lengthAdjust="spacingAndGlyphs" >2</text>
<line x1="1624.3" y1="1333.1" x2="1632.3" y2="1333.1" stroke="#000" stroke-width="2.8" stroke-linecap="butt"/>
<text transform="translate(1622.5 1339.9)" font-family="'Liberation Sans',sans-serif" font-size="19.5" font-weight="bold" text-anchor="end" fill="#000" textLength="11.4" lengthAdjust="spacingAndGlyphs" >1</text>
<line x1="1624.3" y1="1389.6" x2="1632.3" y2="1389.6" stroke="#000" stroke-width="2.8" stroke-linecap="butt"/>
<text transform="translate(1622.5 1396.4)" font-family="'Liberation Sans',sans-serif" font-size="19.5" font-weight="bold" text-anchor="end" fill="#000" textLength="11.4" lengthAdjust="spacingAndGlyphs" >0</text>
<line x1="1624.3" y1="1389.6" x2="1922.5" y2="1389.6" stroke="#000" stroke-width="2.8" stroke-linecap="butt"/>
<line x1="1677" y1="1389.6" x2="1677" y2="1396.5" stroke="#000" stroke-width="2.8" stroke-linecap="butt"/>
<line x1="1731.2" y1="1389.6" x2="1731.2" y2="1396.5" stroke="#000" stroke-width="2.8" stroke-linecap="butt"/>
<line x1="1822" y1="1389.6" x2="1822" y2="1396.5" stroke="#000" stroke-width="2.8" stroke-linecap="butt"/>
<line x1="1876.3" y1="1389.6" x2="1876.3" y2="1396.5" stroke="#000" stroke-width="2.8" stroke-linecap="butt"/>
<rect x="1657.8" y="1332" width="38.3" height="57.6" fill="#050505" />
<rect x="1712" y="1329.8" width="38.3" height="59.8" fill="#050505" />
<line x1="1731.15" y1="1316.8" x2="1731.15" y2="1330.8" stroke="#000" stroke-width="2.8" stroke-linecap="butt"/>
<line x1="1722.65" y1="1316.8" x2="1739.65" y2="1316.8" stroke="#000" stroke-width="2.8" stroke-linecap="butt"/>
<rect x="1803.9" y="1332.9" width="35.8" height="56.7" fill="#718482" stroke="#4a5553" stroke-width="1.8"/>
<rect x="1858" y="1302.7" width="36.5" height="86.9" fill="#718482" stroke="#4a5553" stroke-width="1.8"/>
<line x1="1876.25" y1="1278.5" x2="1876.25" y2="1302.8" stroke="#000" stroke-width="2.8" stroke-linecap="butt"/>
<line x1="1867.75" y1="1278.5" x2="1884.75" y2="1278.5" stroke="#000" stroke-width="2.8" stroke-linecap="butt"/>
<text transform="translate(1846.5 1247.6)" font-family="'Liberation Sans',sans-serif" font-size="21" font-weight="bold" text-anchor="middle" fill="#000" textLength="36" lengthAdjust="spacingAndGlyphs" >n.s.</text>
<line x1="1817.3" y1="1259.4" x2="1875.6" y2="1259.4" stroke="#000" stroke-width="4" stroke-linecap="butt"/>
<text transform="translate(1591 1267.5) rotate(-90)" font-family="'Liberation Sans',sans-serif" font-size="23.5" text-anchor="middle" fill="#000" textLength="168" lengthAdjust="spacingAndGlyphs" stroke="#000" stroke-width="0.8">miR-451a/U44</text>
<text transform="translate(1681 1412.5) rotate(-45)" font-family="'Liberation Sans',sans-serif" font-size="21.5" font-weight="bold" text-anchor="end" fill="#000" textLength="61" lengthAdjust="spacingAndGlyphs" >CTRL</text>
<text transform="translate(1735.2 1412.5) rotate(-45)" font-family="'Liberation Sans',sans-serif" font-size="21.5" font-weight="bold" text-anchor="end" fill="#000" textLength="53.5" lengthAdjust="spacingAndGlyphs" >1 nM</text>
<text transform="translate(1826 1412.5) rotate(-45)" font-family="'Liberation Sans',sans-serif" font-size="21.5" font-weight="bold" text-anchor="end" fill="#000" textLength="61" lengthAdjust="spacingAndGlyphs" >CTRL</text>
<text transform="translate(1880.3 1412.5) rotate(-45)" font-family="'Liberation Sans',sans-serif" font-size="21.5" font-weight="bold" text-anchor="end" fill="#000" textLength="66.5" lengthAdjust="spacingAndGlyphs" >10 nM</text>
</svg>
</body></html>
